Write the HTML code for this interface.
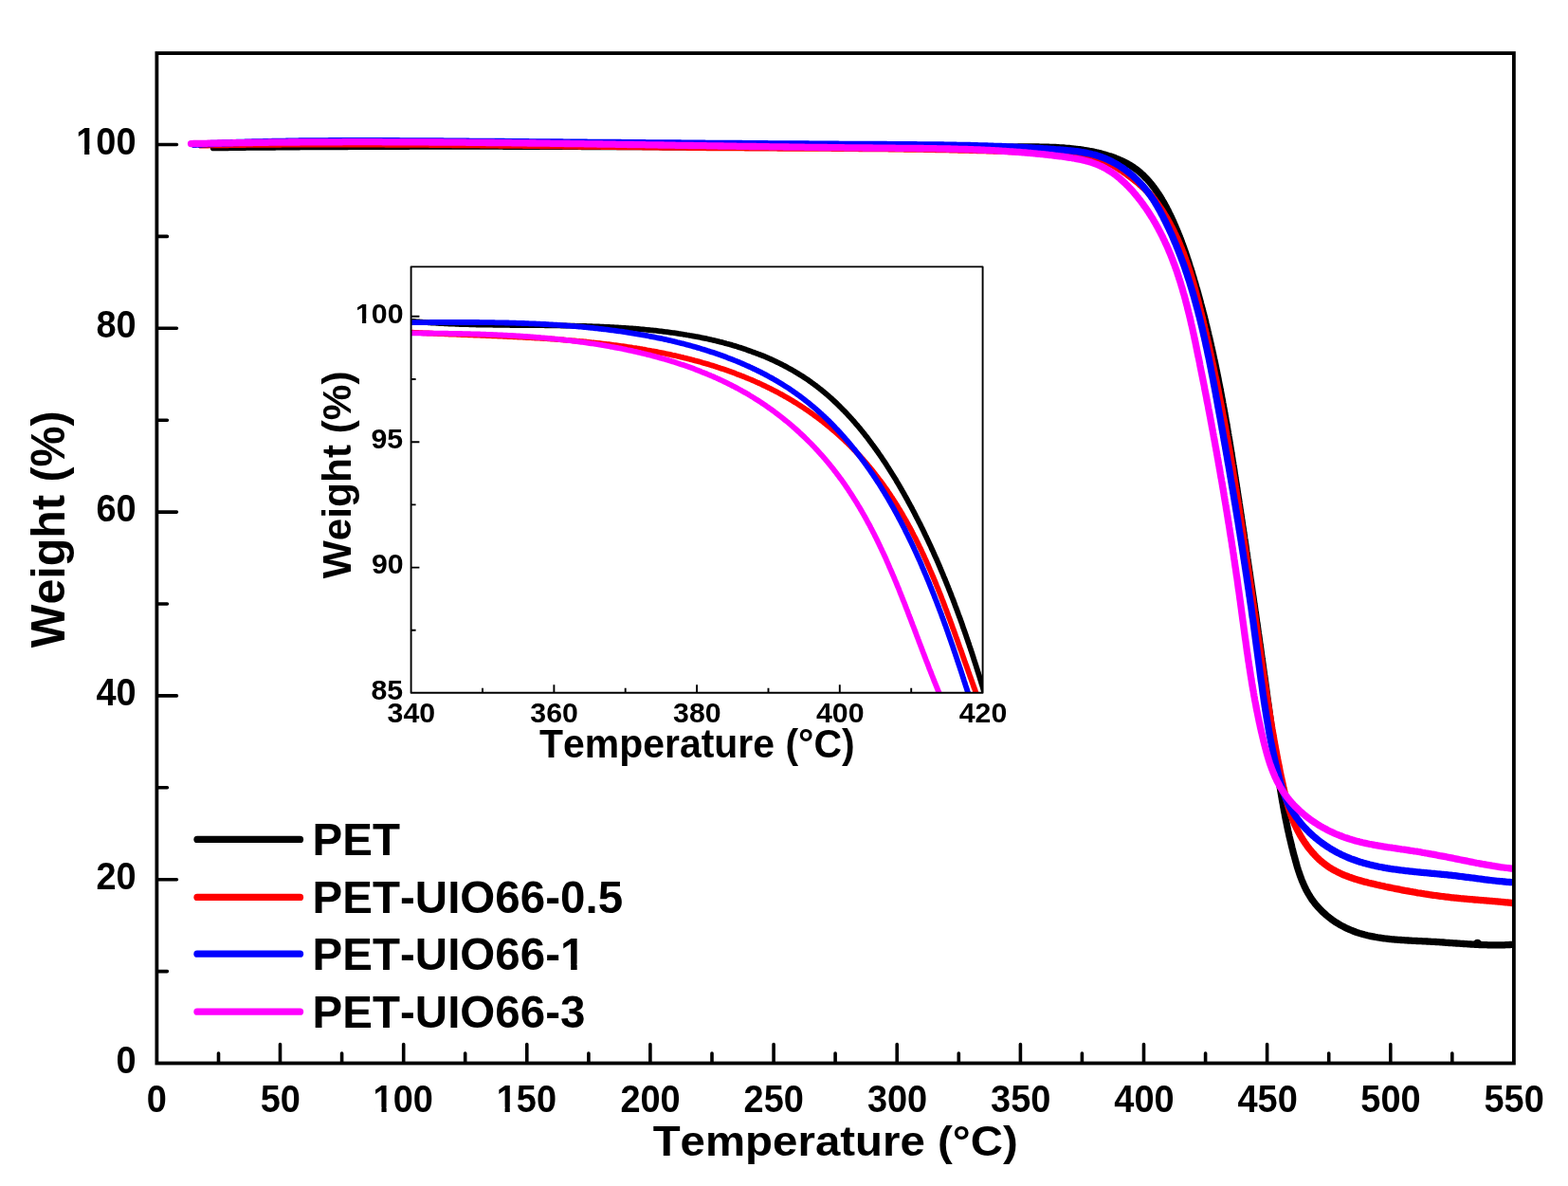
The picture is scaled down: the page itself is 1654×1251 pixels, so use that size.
<!DOCTYPE html>
<html><head><meta charset="utf-8"><title>TGA</title>
<style>html,body{margin:0;padding:0;background:#fff;overflow:hidden;}svg{display:block;}
text{font-family:"Liberation Sans",Arial,sans-serif;font-weight:bold;fill:#000;font-kerning:none;font-feature-settings:"kern" 0;}</style></head>
<body><svg width="1654" height="1251" viewBox="0 0 1654 1251">
<defs><clipPath id="c1_0"><path clip-rule="evenodd" d="M-19.95,-59.85 H86.52 V23.94 H-19.95 Z M1.51,-5.57 H9.31 V15.96 H1.51 Z M14.79,-5.57 H22.08 V15.96 H14.79 Z"/></clipPath><clipPath id="c1_1"><path clip-rule="evenodd" d="M-19.95,-59.85 H86.52 V23.94 H-19.95 Z M1.51,-5.57 H9.31 V15.96 H1.51 Z M14.79,-5.57 H22.08 V15.96 H14.79 Z"/></clipPath><clipPath id="c1_2"><path clip-rule="evenodd" d="M-19.95,-59.85 H86.52 V23.94 H-19.95 Z M1.51,-5.57 H9.31 V15.96 H1.51 Z M14.79,-5.57 H22.08 V15.96 H14.79 Z"/></clipPath><clipPath id="c1_3"><path clip-rule="evenodd" d="M-24.50,-73.50 H321.31 V29.40 H-24.50 Z M271.64,-6.50 H280.99 V19.60 H271.64 Z M287.71,-6.50 H296.44 V19.60 H287.71 Z"/></clipPath><clipPath id="c1_4"><path clip-rule="evenodd" d="M-15.00,-45.00 H65.06 V18.00 H-15.00 Z M0.89,-4.56 H7.00 V12.00 H0.89 Z M11.12,-4.56 H16.85 V12.00 H11.12 Z"/></clipPath></defs>
<rect x="0" y="0" width="1654" height="1251" fill="#fff"/>
<clipPath id="mc"><rect x="150" y="40" width="1447.0" height="1100"/></clipPath>
<g clip-path="url(#mc)">
<path d="M225.3,155.7 L226.8,155.6 228.3,155.6 229.8,155.6 231.3,155.6 232.8,155.6 234.3,155.5 235.8,155.5 237.3,155.5 238.8,155.5 240.4,155.5 241.9,155.4 243.4,155.4 244.9,155.4 246.4,155.4 247.9,155.4 249.4,155.4 250.9,155.3 252.4,155.3 253.9,155.3 255.4,155.3 256.9,155.3 258.4,155.3 259.9,155.2 261.4,155.2 262.9,155.2 264.4,155.2 265.9,155.2 267.4,155.2 268.9,155.2 270.4,155.1 271.9,155.1 273.4,155.1 274.9,155.1 276.4,155.1 277.9,155.1 279.4,155.1 280.9,155.0 282.4,155.0 283.9,155.0 285.4,155.0 286.9,155.0 288.4,155.0 289.9,155.0 291.4,154.9 292.9,154.9 294.4,154.9 296.0,154.9 297.5,154.9 299.0,154.9 300.5,154.9 302.0,154.9 303.5,154.8 305.0,154.8 306.5,154.8 308.0,154.8 309.5,154.8 311.0,154.8 312.5,154.8 314.0,154.8 315.5,154.8 317.0,154.7 318.5,154.7 320.0,154.7 321.5,154.7 323.0,154.7 324.5,154.7 326.0,154.7 327.5,154.7 329.0,154.7 330.5,154.7 332.0,154.6 333.5,154.6 335.0,154.6 336.5,154.6 338.0,154.6 339.5,154.6 341.0,154.6 342.5,154.6 344.0,154.6 345.5,154.6 347.0,154.6 348.5,154.5 350.0,154.5 351.5,154.5 353.0,154.5 354.5,154.5 356.0,154.5 357.5,154.5 359.0,154.5 360.5,154.5 362.0,154.5 363.5,154.5 365.0,154.5 366.5,154.5 368.0,154.4 369.5,154.4 371.0,154.4 372.5,154.4 374.0,154.4 375.5,154.4 377.0,154.4 378.5,154.4 380.0,154.4 381.5,154.4 383.0,154.4 384.5,154.4 386.0,154.4 387.5,154.4 389.0,154.4 390.5,154.4 392.0,154.4 393.5,154.3 395.0,154.3 396.5,154.3 398.0,154.3 399.5,154.3 401.0,154.3 402.5,154.3 404.0,154.3 405.5,154.3 407.0,154.3 408.5,154.3 410.0,154.3 411.5,154.3 413.0,154.3 414.5,154.3 416.0,154.3 417.5,154.3 419.0,154.3 420.5,154.3 422.0,154.3 423.5,154.3 425.0,154.3 426.5,154.3 428.0,154.3 429.5,154.3 431.0,154.3 432.5,154.2 434.0,154.2 435.5,154.2 437.0,154.2 438.5,154.2 440.0,154.2 441.5,154.2 443.0,154.2 444.5,154.2 446.0,154.2 447.5,154.2 449.0,154.2 450.5,154.2 452.0,154.2 453.5,154.2 455.0,154.2 456.5,154.2 458.0,154.2 459.5,154.2 461.0,154.2 462.5,154.2 464.0,154.2 465.4,154.2 466.9,154.2 468.4,154.2 469.9,154.2 471.4,154.2 472.9,154.2 474.4,154.2 475.9,154.2 477.4,154.2 478.9,154.2 480.4,154.2 481.9,154.2 483.4,154.2 484.9,154.2 486.4,154.2 487.9,154.2 489.4,154.2 490.9,154.2 492.4,154.2 493.9,154.2 495.4,154.2 496.9,154.2 498.4,154.2 499.9,154.2 501.4,154.2 502.9,154.2 504.4,154.2 505.9,154.2 507.4,154.2 508.9,154.2 510.4,154.2 511.9,154.2 513.4,154.2 514.9,154.2 516.4,154.2 517.9,154.2 519.4,154.2 520.9,154.2 522.4,154.2 523.9,154.2 525.4,154.2 526.9,154.2 528.4,154.2 529.9,154.2 531.4,154.3 532.9,154.3 534.4,154.3 535.9,154.3 537.4,154.3 538.9,154.3 540.4,154.3 541.8,154.3 543.3,154.3 544.8,154.3 546.3,154.3 547.8,154.3 549.3,154.3 550.8,154.3 552.3,154.3 553.8,154.3 555.3,154.3 556.8,154.3 558.3,154.3 559.8,154.3 561.3,154.3 562.8,154.3 564.3,154.3 565.8,154.3 567.3,154.3 568.8,154.3 570.3,154.3 571.8,154.3 573.3,154.3 574.8,154.3 576.3,154.3 577.8,154.3 579.3,154.4 580.8,154.4 582.3,154.4 583.8,154.4 585.3,154.4 586.8,154.4 588.3,154.4 589.8,154.4 591.3,154.4 592.8,154.4 594.3,154.4 595.8,154.4 597.3,154.4 598.8,154.4 600.3,154.4 601.8,154.4 603.3,154.4 604.7,154.4 606.2,154.4 607.7,154.4 609.2,154.4 610.7,154.4 612.2,154.4 613.7,154.5 615.2,154.5 616.7,154.5 618.2,154.5 619.7,154.5 621.2,154.5 622.7,154.5 624.2,154.5 625.7,154.5 627.2,154.5 628.7,154.5 630.2,154.5 631.7,154.5 633.2,154.5 634.7,154.5 636.2,154.5 637.7,154.5 639.2,154.5 640.7,154.5 642.2,154.5 643.7,154.5 645.2,154.6 646.7,154.6 648.2,154.6 649.7,154.6 651.2,154.6 652.7,154.6 654.2,154.6 655.7,154.6 657.2,154.6 658.7,154.6 660.2,154.6 661.7,154.6 663.2,154.6 664.6,154.6 666.1,154.6 667.6,154.6 669.1,154.6 670.6,154.6 672.1,154.7 673.6,154.7 675.1,154.7 676.6,154.7 678.1,154.7 679.6,154.7 681.1,154.7 682.6,154.7 684.1,154.7 685.6,154.7 687.1,154.7 688.6,154.7 690.1,154.7 691.6,154.7 693.1,154.7 694.6,154.7 696.1,154.7 697.6,154.7 699.1,154.8 700.6,154.8 702.1,154.8 703.6,154.8 705.1,154.8 706.6,154.8 708.1,154.8 709.6,154.8 711.1,154.8 712.6,154.8 714.1,154.8 715.6,154.8 717.1,154.8 718.6,154.8 720.1,154.8 721.6,154.8 723.1,154.8 724.6,154.9 726.1,154.9 727.6,154.9 729.1,154.9 730.6,154.9 732.0,154.9 733.5,154.9 735.0,154.9 736.5,154.9 738.0,154.9 739.5,154.9 741.0,154.9 742.5,154.9 744.0,154.9 745.5,154.9 747.0,154.9 748.5,154.9 750.0,154.9 751.5,155.0 753.0,155.0 754.5,155.0 756.0,155.0 757.5,155.0 759.0,155.0 760.5,155.0 762.0,155.0 763.5,155.0 765.0,155.0 766.5,155.0 768.0,155.0 769.5,155.0 771.0,155.0 772.5,155.0 774.0,155.0 775.5,155.0 777.0,155.0 778.5,155.0 780.0,155.1 781.5,155.1 783.0,155.1 784.5,155.1 786.0,155.1 787.5,155.1 789.0,155.1 790.5,155.1 792.0,155.1 793.5,155.1 795.0,155.1 796.5,155.1 798.0,155.1 799.5,155.1 801.0,155.1 802.5,155.1 804.0,155.1 805.5,155.1 807.0,155.1 808.5,155.1 810.0,155.2 811.5,155.2 813.0,155.2 814.5,155.2 816.0,155.2 817.5,155.2 819.0,155.2 820.5,155.2 822.0,155.2 823.5,155.2 825.0,155.2 826.5,155.2 828.0,155.2 829.5,155.2 831.0,155.2 832.5,155.2 834.0,155.2 835.5,155.2 837.0,155.2 838.5,155.2 840.0,155.2 841.5,155.2 843.0,155.2 844.5,155.2 846.0,155.3 847.5,155.3 849.0,155.3 850.5,155.3 852.0,155.3 853.5,155.3 855.0,155.3 856.5,155.3 858.0,155.3 859.5,155.3 861.0,155.3 862.5,155.3 864.0,155.3 865.5,155.3 867.0,155.3 868.5,155.3 870.0,155.3 871.5,155.3 873.0,155.3 874.5,155.3 876.0,155.3 877.5,155.3 879.0,155.3 880.5,155.3 882.0,155.3 883.5,155.3 885.0,155.3 886.5,155.3 888.0,155.3 889.5,155.3 891.0,155.3 892.5,155.3 894.0,155.3 895.5,155.4 897.0,155.4 898.5,155.4 900.0,155.4 901.5,155.4 903.0,155.4 904.5,155.4 906.0,155.4 907.5,155.4 909.0,155.4 910.5,155.4 912.0,155.4 913.5,155.4 915.0,155.4 916.5,155.4 918.0,155.4 919.5,155.4 921.0,155.4 922.5,155.4 924.0,155.4 925.5,155.4 927.0,155.4 928.5,155.4 930.0,155.4 931.5,155.4 933.0,155.4 934.5,155.4 936.0,155.4 937.5,155.4 939.0,155.4 940.5,155.4 942.0,155.4 943.5,155.4 945.0,155.4 946.5,155.4 948.0,155.4 949.5,155.4 951.0,155.4 952.5,155.4 954.0,155.4 955.5,155.4 957.0,155.4 958.5,155.4 960.0,155.4 961.5,155.4 963.0,155.4 964.5,155.4 966.1,155.4 967.6,155.4 969.1,155.4 970.6,155.4 972.1,155.4 973.6,155.4 975.1,155.4 976.6,155.4 978.1,155.4 979.6,155.4 981.1,155.4 982.6,155.4 984.1,155.4 985.6,155.4 987.1,155.3 988.6,155.3 990.1,155.3 991.6,155.3 993.1,155.3 994.6,155.3 996.1,155.3 997.6,155.3 999.1,155.3 1000.6,155.3 1002.1,155.3 1003.6,155.3 1005.1,155.3 1006.6,155.3 1008.1,155.3 1009.6,155.3 1011.2,155.3 1012.7,155.3 1014.2,155.3 1015.7,155.3 1017.2,155.3 1018.7,155.3 1020.2,155.3 1021.7,155.3 1023.2,155.3 1024.7,155.3 1026.2,155.3 1027.7,155.2 1029.2,155.2 1030.7,155.2 1032.2,155.2 1033.7,155.2 1035.2,155.2 1036.7,155.2 1038.2,155.2 1039.7,155.2 1041.2,155.2 1042.8,155.2 1044.3,155.2 1045.8,155.2 1047.3,155.2 1048.8,155.2 1050.3,155.2 1051.8,155.2 1053.3,155.2 1054.8,155.1 1056.3,155.1 1057.8,155.1 1059.3,155.1 1060.8,155.1 1062.3,155.1 1063.8,155.1 1065.3,155.1 1066.8,155.1 1068.4,155.1 1069.9,155.1 1071.4,155.1 1072.9,155.1 1074.4,155.0 1075.9,155.0 1077.4,155.0 1078.9,155.0 1080.4,155.0 1081.9,155.0 1083.4,155.0 1084.9,155.0 1086.4,155.0 1087.9,155.0 1089.4,155.0 1090.9,155.0 1092.4,155.0 1094.0,155.0 1095.5,155.0 1097.0,155.1 1098.5,155.1 1100.0,155.1 1101.5,155.1 1103.0,155.2 1104.5,155.2 1106.0,155.2 1107.5,155.3 1109.0,155.3 1110.5,155.4 1112.0,155.4 1113.5,155.5 1115.0,155.6 1116.5,155.7 1117.9,155.8 1119.4,155.8 1120.9,155.9 1122.4,156.0 1123.9,156.2 1125.4,156.3 1126.9,156.4 1128.4,156.5 1129.9,156.7 1131.4,156.8 1132.8,157.0 1134.3,157.2 1135.8,157.3 1137.3,157.5 1138.8,157.7 1140.2,157.9 1141.7,158.1 1143.2,158.4 1144.7,158.6 1146.1,158.8 1147.6,159.1 1149.1,159.4 1150.5,159.6 1152.0,159.9 1153.5,160.2 1154.9,160.5 1156.4,160.9 1157.9,161.2 1159.3,161.5 1160.8,161.9 1162.2,162.3 1163.7,162.7 1165.1,163.1 1166.6,163.5 1168.0,163.9 1169.5,164.4 1170.9,164.8 1172.3,165.3 1173.7,165.8 1175.1,166.3 1176.5,166.8 1177.9,167.4 1179.3,167.9 1180.7,168.5 1182.0,169.1 1183.4,169.7 1184.7,170.3 1186.0,171.0 1187.4,171.6 1188.7,172.3 1189.9,173.0 1191.2,173.8 1192.5,174.5 1193.7,175.3 1194.9,176.1 1196.1,176.9 1197.3,177.8 1198.5,178.6 1199.7,179.5 1200.8,180.4 1201.9,181.3 1203.0,182.3 1204.1,183.3 1205.2,184.2 1206.2,185.2 1207.3,186.3 1208.3,187.3 1209.3,188.3 1210.3,189.4 1211.3,190.5 1212.3,191.6 1213.2,192.7 1214.2,193.9 1215.1,195.0 1216.0,196.2 1216.9,197.4 1217.8,198.5 1218.7,199.8 1219.5,201.0 1220.4,202.2 1221.2,203.4 1222.1,204.7 1222.9,205.9 1223.7,207.2 1224.5,208.5 1225.3,209.8 1226.0,211.1 1226.8,212.4 1227.6,213.7 1228.3,215.0 1229.0,216.4 1229.8,217.7 1230.5,219.0 1231.2,220.4 1231.9,221.7 1232.6,223.1 1233.2,224.5 1233.9,225.8 1234.6,227.2 1235.2,228.6 1235.9,230.0 1236.5,231.3 1237.1,232.7 1237.8,234.1 1238.4,235.5 1239.0,236.9 1239.6,238.3 1240.2,239.7 1240.8,241.1 1241.4,242.5 1242.0,243.9 1242.5,245.3 1243.1,246.7 1243.7,248.1 1244.2,249.5 1244.8,250.9 1245.3,252.3 1245.9,253.7 1246.4,255.1 1246.9,256.6 1247.5,258.0 1248.0,259.4 1248.5,260.8 1249.0,262.2 1249.5,263.7 1250.0,265.1 1250.5,266.5 1251.0,267.9 1251.5,269.4 1251.9,270.8 1252.4,272.2 1252.9,273.7 1253.4,275.1 1253.8,276.5 1254.3,278.0 1254.8,279.4 1255.2,280.8 1255.7,282.3 1256.1,283.7 1256.6,285.1 1257.0,286.6 1257.5,288.0 1257.9,289.4 1258.3,290.9 1258.8,292.3 1259.2,293.8 1259.6,295.2 1260.0,296.7 1260.5,298.1 1260.9,299.5 1261.3,301.0 1261.7,302.4 1262.1,303.9 1262.6,305.3 1263.0,306.7 1263.4,308.2 1263.8,309.6 1264.2,311.1 1264.6,312.5 1265.0,314.0 1265.4,315.4 1265.8,316.9 1266.2,318.3 1266.5,319.8 1266.9,321.2 1267.3,322.6 1267.7,324.1 1268.1,325.5 1268.5,327.0 1268.8,328.4 1269.2,329.9 1269.6,331.3 1270.0,332.8 1270.3,334.2 1270.7,335.7 1271.1,337.1 1271.4,338.6 1271.8,340.0 1272.1,341.5 1272.5,342.9 1272.9,344.4 1273.2,345.9 1273.6,347.3 1273.9,348.8 1274.3,350.2 1274.6,351.7 1274.9,353.1 1275.3,354.6 1275.6,356.0 1276.0,357.5 1276.3,358.9 1276.6,360.4 1277.0,361.9 1277.3,363.3 1277.6,364.8 1278.0,366.2 1278.3,367.7 1278.6,369.1 1278.9,370.6 1279.3,372.1 1279.6,373.5 1279.9,375.0 1280.2,376.4 1280.5,377.9 1280.8,379.4 1281.1,380.8 1281.5,382.3 1281.8,383.7 1282.1,385.2 1282.4,386.7 1282.7,388.1 1283.0,389.6 1283.3,391.0 1283.6,392.5 1283.9,394.0 1284.2,395.4 1284.5,396.9 1284.8,398.4 1285.1,399.8 1285.3,401.3 1285.6,402.8 1285.9,404.2 1286.2,405.7 1286.5,407.1 1286.8,408.6 1287.1,410.1 1287.3,411.5 1287.6,413.0 1287.9,414.5 1288.2,415.9 1288.5,417.4 1288.7,418.9 1289.0,420.3 1289.3,421.8 1289.6,423.3 1289.8,424.8 1290.1,426.2 1290.4,427.7 1290.6,429.2 1290.9,430.6 1291.2,432.1 1291.4,433.6 1291.7,435.0 1291.9,436.5 1292.2,438.0 1292.5,439.5 1292.7,440.9 1293.0,442.4 1293.2,443.9 1293.5,445.3 1293.8,446.8 1294.0,448.3 1294.3,449.8 1294.5,451.2 1294.8,452.7 1295.0,454.2 1295.3,455.6 1295.5,457.1 1295.8,458.6 1296.0,460.1 1296.3,461.5 1296.5,463.0 1296.8,464.5 1297.0,466.0 1297.2,467.4 1297.5,468.9 1297.7,470.4 1298.0,471.9 1298.2,473.4 1298.4,474.8 1298.7,476.3 1298.9,477.8 1299.2,479.3 1299.4,480.7 1299.6,482.2 1299.9,483.7 1300.1,485.2 1300.3,486.7 1300.6,488.1 1300.8,489.6 1301.1,491.1 1301.3,492.6 1301.5,494.0 1301.8,495.5 1302.0,497.0 1302.2,498.5 1302.4,500.0 1302.7,501.4 1302.9,502.9 1303.1,504.4 1303.4,505.9 1303.6,507.4 1303.8,508.9 1304.1,510.3 1304.3,511.8 1304.5,513.3 1304.7,514.8 1305.0,516.3 1305.2,517.7 1305.4,519.2 1305.6,520.7 1305.9,522.2 1306.1,523.7 1306.3,525.2 1306.6,526.6 1306.8,528.1 1307.0,529.6 1307.2,531.1 1307.5,532.6 1307.7,534.1 1307.9,535.5 1308.1,537.0 1308.4,538.5 1308.6,540.0 1308.8,541.5 1309.0,543.0 1309.3,544.5 1309.5,545.9 1309.7,547.4 1309.9,548.9 1310.2,550.4 1310.4,551.9 1310.6,553.4 1310.8,554.9 1311.1,556.4 1311.3,557.8 1311.5,559.3 1311.7,560.8 1311.9,562.3 1312.2,563.8 1312.4,565.3 1312.6,566.8 1312.8,568.3 1313.1,569.7 1313.3,571.2 1313.5,572.7 1313.7,574.2 1314.0,575.7 1314.2,577.2 1314.4,578.7 1314.6,580.2 1314.8,581.6 1315.1,583.1 1315.3,584.6 1315.5,586.1 1315.7,587.6 1315.9,589.1 1316.2,590.6 1316.4,592.1 1316.6,593.6 1316.8,595.0 1317.0,596.5 1317.3,598.0 1317.5,599.5 1317.7,601.0 1317.9,602.5 1318.1,604.0 1318.4,605.5 1318.6,607.0 1318.8,608.5 1319.0,609.9 1319.2,611.4 1319.5,612.9 1319.7,614.4 1319.9,615.9 1320.1,617.4 1320.3,618.9 1320.6,620.4 1320.8,621.9 1321.0,623.4 1321.2,624.9 1321.4,626.3 1321.6,627.8 1321.9,629.3 1322.1,630.8 1322.3,632.3 1322.5,633.8 1322.7,635.3 1322.9,636.8 1323.2,638.3 1323.4,639.8 1323.6,641.2 1323.8,642.7 1324.0,644.2 1324.2,645.7 1324.5,647.2 1324.7,648.7 1324.9,650.2 1325.1,651.7 1325.3,653.2 1325.5,654.7 1325.7,656.2 1326.0,657.6 1326.2,659.1 1326.4,660.6 1326.6,662.1 1326.8,663.6 1327.0,665.1 1327.2,666.6 1327.4,668.1 1327.7,669.6 1327.9,671.1 1328.1,672.5 1328.3,674.0 1328.5,675.5 1328.7,677.0 1328.9,678.5 1329.1,680.0 1329.4,681.5 1329.6,683.0 1329.8,684.5 1330.0,686.0 1330.2,687.4 1330.4,688.9 1330.6,690.4 1330.8,691.9 1331.0,693.4 1331.2,694.9 1331.5,696.4 1331.7,697.9 1331.9,699.4 1332.1,700.8 1332.3,702.3 1332.5,703.8 1332.7,705.3 1332.9,706.8 1333.1,708.3 1333.3,709.8 1333.5,711.3 1333.7,712.7 1334.0,714.2 1334.2,715.7 1334.4,717.2 1334.6,718.7 1334.8,720.2 1335.0,721.7 1335.2,723.2 1335.4,724.6 1335.6,726.1 1335.8,727.6 1336.0,729.1 1336.2,730.6 1336.4,732.1 1336.6,733.6 1336.8,735.1 1337.0,736.5 1337.2,738.0 1337.4,739.5 1337.6,741.0 1337.9,742.5 1338.1,744.0 1338.3,745.4 1338.5,746.9 1338.7,748.4 1338.9,749.9 1339.1,751.4 1339.3,752.9 1339.5,754.4 1339.7,755.8 1339.9,757.3 1340.1,758.8 1340.3,760.3 1340.5,761.8 1340.7,763.3 1340.9,764.7 1341.1,766.2 1341.3,767.7 1341.5,769.2 1341.7,770.7 1341.9,772.1 1342.1,773.6 1342.3,775.1 1342.5,776.6 1342.7,778.1 1342.9,779.5 1343.1,781.0 1343.3,782.5 1343.5,784.0 1343.7,785.5 1343.9,786.9 1344.1,788.4 1344.3,789.9 1344.5,791.4 1344.7,792.9 1344.9,794.3 1345.1,795.8 1345.3,797.3 1345.5,798.8 1345.7,800.2 1345.9,801.7 1346.1,803.2 1346.4,804.7 1346.6,806.2 1346.8,807.6 1347.0,809.1 1347.2,810.6 1347.4,812.1 1347.6,813.5 1347.9,815.0 1348.1,816.5 1348.3,817.9 1348.5,819.4 1348.7,820.9 1349.0,822.4 1349.2,823.8 1349.4,825.3 1349.7,826.8 1349.9,828.3 1350.1,829.7 1350.4,831.2 1350.6,832.7 1350.8,834.1 1351.1,835.6 1351.3,837.1 1351.6,838.6 1351.8,840.0 1352.1,841.5 1352.3,843.0 1352.6,844.4 1352.8,845.9 1353.1,847.4 1353.4,848.8 1353.6,850.3 1353.9,851.8 1354.2,853.2 1354.4,854.7 1354.7,856.2 1355.0,857.6 1355.3,859.1 1355.5,860.6 1355.8,862.0 1356.1,863.5 1356.4,864.9 1356.7,866.4 1357.0,867.9 1357.3,869.3 1357.6,870.8 1357.9,872.3 1358.2,873.7 1358.5,875.2 1358.8,876.6 1359.2,878.1 1359.5,879.6 1359.8,881.0 1360.1,882.5 1360.5,883.9 1360.8,885.4 1361.2,886.9 1361.5,888.3 1361.9,889.8 1362.2,891.2 1362.6,892.7 1362.9,894.1 1363.3,895.6 1363.7,897.0 1364.0,898.5 1364.4,900.0 1364.8,901.4 1365.2,902.9 1365.6,904.3 1366.0,905.8 1366.4,907.2 1366.8,908.7 1367.2,910.1 1367.6,911.6 1368.0,913.0 1368.4,914.5 1368.9,915.9 1369.3,917.3 1369.8,918.8 1370.3,920.2 1370.7,921.6 1371.2,923.0 1371.7,924.4 1372.3,925.9 1372.8,927.3 1373.3,928.6 1373.9,930.0 1374.5,931.4 1375.1,932.8 1375.7,934.1 1376.3,935.5 1377.0,936.8 1377.6,938.2 1378.3,939.5 1379.0,940.8 1379.7,942.1 1380.5,943.4 1381.3,944.7 1382.1,946.0 1382.9,947.2 1383.7,948.5 1384.6,949.7 1385.5,950.9 1386.4,952.1 1387.3,953.3 1388.3,954.5 1389.3,955.6 1390.3,956.8 1391.3,957.9 1392.4,959.0 1393.4,960.1 1394.5,961.2 1395.6,962.2 1396.8,963.3 1397.9,964.3 1399.0,965.3 1400.2,966.3 1401.4,967.2 1402.6,968.2 1403.8,969.1 1405.0,970.0 1406.3,970.9 1407.5,971.8 1408.7,972.6 1410.0,973.4 1411.3,974.2 1412.6,975.0 1413.8,975.7 1415.1,976.4 1416.4,977.1 1417.8,977.8 1419.1,978.5 1420.4,979.1 1421.7,979.7 1423.1,980.3 1424.4,980.9 1425.8,981.4 1427.1,982.0 1428.5,982.5 1429.8,983.0 1431.2,983.5 1432.6,983.9 1434.0,984.4 1435.4,984.8 1436.8,985.2 1438.2,985.6 1439.6,986.0 1441.0,986.3 1442.4,986.7 1443.8,987.0 1445.3,987.3 1446.7,987.6 1448.1,987.9 1449.6,988.2 1451.0,988.5 1452.5,988.7 1453.9,989.0 1455.4,989.2 1456.9,989.4 1458.3,989.6 1459.8,989.8 1461.3,990.0 1462.8,990.2 1464.3,990.4 1465.8,990.5 1467.2,990.7 1468.7,990.8 1470.2,990.9 1471.7,991.1 1473.2,991.2 1474.8,991.3 1476.3,991.4 1477.8,991.5 1479.3,991.6 1480.8,991.7 1482.3,991.8 1483.9,991.9 1485.4,992.0 1486.9,992.1 1488.4,992.2 1490.0,992.3 1491.5,992.3 1493.0,992.4 1494.6,992.5 1496.1,992.6 1497.6,992.6 1499.2,992.7 1500.7,992.8 1502.3,992.9 1503.8,992.9 1505.4,993.0 1506.9,993.1 1508.5,993.2 1510.0,993.3 1511.5,993.3 1513.1,993.4 1514.6,993.5 1516.2,993.6 1517.7,993.7 1519.3,993.8 1520.8,993.9 1522.4,994.0 1523.9,994.1 1525.5,994.3 1527.0,994.4 1528.5,994.5 1530.1,994.6 1531.6,994.7 1533.2,994.8 1534.7,994.9 1536.2,995.0 1537.8,995.1 1539.3,995.2 1540.9,995.3 1542.4,995.4 1543.9,995.5 1545.4,995.6 1547.0,995.7 1548.5,995.8 1550.0,995.9 1551.5,996.0 1553.0,996.1 1554.6,996.2 1556.1,996.3 1557.6,996.3 1559.1,996.4 1560.6,996.5 1562.1,996.5 1563.6,996.6 1565.1,996.7 1566.6,996.7 1568.1,996.7 1569.5,996.8 1571.0,996.8 1572.5,996.8 1574.0,996.9 1575.4,996.9 1576.9,996.9 1578.3,996.9 1579.8,996.9 1581.3,996.9 1582.7,996.9 1584.1,996.8 1585.6,996.8 1587.0,996.8 1588.4,996.7 1589.8,996.6 1591.3,996.6 1592.7,996.5 1594.1,996.4 1595.5,996.3 1596.9,996.2 1598.3,996.1 1599.6,996.0" fill="none" stroke="#000" stroke-width="7.3" stroke-linecap="round" stroke-linejoin="round"/>
<circle cx="1558.5" cy="995.3" r="4.6" fill="#000"/>
<path d="M212.0,152.9 L213.5,152.8 215.0,152.8 216.5,152.8 218.0,152.8 219.5,152.8 221.0,152.7 222.5,152.7 224.0,152.7 225.5,152.7 227.0,152.6 228.5,152.6 230.0,152.6 231.5,152.6 233.0,152.6 234.4,152.5 235.9,152.5 237.4,152.5 238.9,152.5 240.4,152.5 241.9,152.4 243.4,152.4 244.9,152.4 246.4,152.4 247.9,152.4 249.4,152.3 250.9,152.3 252.4,152.3 253.9,152.3 255.4,152.3 256.9,152.3 258.4,152.3 259.9,152.2 261.4,152.2 262.9,152.2 264.4,152.2 265.9,152.2 267.4,152.2 268.9,152.2 270.4,152.1 271.9,152.1 273.4,152.1 274.9,152.1 276.4,152.1 277.9,152.1 279.4,152.1 280.9,152.1 282.4,152.0 283.9,152.0 285.4,152.0 286.9,152.0 288.4,152.0 289.9,152.0 291.4,152.0 292.9,152.0 294.4,152.0 295.9,152.0 297.4,151.9 298.9,151.9 300.4,151.9 301.9,151.9 303.4,151.9 304.9,151.9 306.4,151.9 307.9,151.9 309.4,151.9 310.9,151.9 312.4,151.9 313.9,151.9 315.4,151.9 316.9,151.9 318.4,151.9 319.9,151.9 321.4,151.8 322.9,151.8 324.4,151.8 325.9,151.8 327.4,151.8 328.9,151.8 330.4,151.8 331.9,151.8 333.4,151.8 334.9,151.8 336.4,151.8 337.9,151.8 339.4,151.8 340.9,151.8 342.4,151.8 343.9,151.8 345.4,151.8 346.9,151.8 348.4,151.8 349.9,151.8 351.4,151.8 352.9,151.8 354.4,151.8 355.9,151.8 357.4,151.8 358.9,151.8 360.4,151.8 361.9,151.8 363.4,151.8 364.9,151.8 366.4,151.8 367.9,151.8 369.4,151.8 370.9,151.8 372.4,151.8 373.9,151.8 375.4,151.8 376.9,151.8 378.4,151.8 379.9,151.9 381.4,151.9 382.9,151.9 384.4,151.9 385.9,151.9 387.4,151.9 388.9,151.9 390.4,151.9 391.9,151.9 393.4,151.9 394.9,151.9 396.4,151.9 397.9,151.9 399.4,151.9 400.9,151.9 402.4,151.9 403.9,151.9 405.4,151.9 406.9,152.0 408.4,152.0 409.9,152.0 411.4,152.0 412.9,152.0 414.4,152.0 415.9,152.0 417.4,152.0 418.9,152.0 420.4,152.0 421.9,152.0 423.4,152.0 424.9,152.1 426.4,152.1 427.9,152.1 429.4,152.1 430.9,152.1 432.4,152.1 433.9,152.1 435.4,152.1 436.9,152.1 438.4,152.1 439.9,152.2 441.4,152.2 442.9,152.2 444.4,152.2 445.9,152.2 447.4,152.2 448.9,152.2 450.4,152.2 451.9,152.2 453.4,152.3 454.9,152.3 456.4,152.3 457.9,152.3 459.4,152.3 460.9,152.3 462.4,152.3 463.9,152.3 465.4,152.4 466.8,152.4 468.3,152.4 469.8,152.4 471.3,152.4 472.8,152.4 474.3,152.4 475.8,152.4 477.3,152.5 478.8,152.5 480.3,152.5 481.8,152.5 483.3,152.5 484.8,152.5 486.3,152.5 487.8,152.6 489.3,152.6 490.8,152.6 492.3,152.6 493.8,152.6 495.3,152.6 496.8,152.6 498.3,152.7 499.8,152.7 501.3,152.7 502.8,152.7 504.3,152.7 505.8,152.7 507.3,152.8 508.8,152.8 510.3,152.8 511.8,152.8 513.3,152.8 514.8,152.8 516.3,152.8 517.8,152.9 519.3,152.9 520.8,152.9 522.3,152.9 523.8,152.9 525.3,152.9 526.8,153.0 528.3,153.0 529.8,153.0 531.3,153.0 532.8,153.0 534.3,153.0 535.8,153.1 537.3,153.1 538.8,153.1 540.3,153.1 541.8,153.1 543.3,153.1 544.8,153.2 546.3,153.2 547.8,153.2 549.3,153.2 550.8,153.2 552.3,153.3 553.8,153.3 555.3,153.3 556.8,153.3 558.3,153.3 559.8,153.3 561.3,153.4 562.8,153.4 564.3,153.4 565.8,153.4 567.3,153.4 568.8,153.4 570.3,153.5 571.8,153.5 573.3,153.5 574.8,153.5 576.3,153.5 577.8,153.6 579.3,153.6 580.8,153.6 582.3,153.6 583.8,153.6 585.3,153.6 586.8,153.7 588.3,153.7 589.8,153.7 591.3,153.7 592.8,153.7 594.3,153.8 595.8,153.8 597.3,153.8 598.8,153.8 600.3,153.8 601.8,153.9 603.3,153.9 604.8,153.9 606.3,153.9 607.8,153.9 609.3,153.9 610.8,154.0 612.3,154.0 613.8,154.0 615.3,154.0 616.8,154.0 618.3,154.1 619.8,154.1 621.3,154.1 622.8,154.1 624.3,154.1 625.8,154.1 627.3,154.2 628.8,154.2 630.3,154.2 631.8,154.2 633.3,154.2 634.8,154.3 636.3,154.3 637.8,154.3 639.3,154.3 640.8,154.3 642.3,154.3 643.8,154.4 645.3,154.4 646.8,154.4 648.3,154.4 649.8,154.4 651.3,154.5 652.8,154.5 654.3,154.5 655.8,154.5 657.3,154.5 658.8,154.5 660.3,154.6 661.8,154.6 663.3,154.6 664.8,154.6 666.3,154.6 667.8,154.6 669.3,154.7 670.8,154.7 672.3,154.7 673.8,154.7 675.3,154.7 676.8,154.7 678.3,154.8 679.8,154.8 681.3,154.8 682.8,154.8 684.3,154.8 685.8,154.9 687.3,154.9 688.8,154.9 690.3,154.9 691.8,154.9 693.3,154.9 694.8,154.9 696.3,155.0 697.8,155.0 699.3,155.0 700.8,155.0 702.3,155.0 703.8,155.0 705.3,155.1 706.8,155.1 708.3,155.1 709.8,155.1 711.3,155.1 712.8,155.1 714.3,155.2 715.8,155.2 717.3,155.2 718.8,155.2 720.3,155.2 721.8,155.2 723.3,155.2 724.8,155.3 726.3,155.3 727.7,155.3 729.2,155.3 730.7,155.3 732.2,155.3 733.7,155.3 735.2,155.4 736.7,155.4 738.2,155.4 739.7,155.4 741.2,155.4 742.7,155.4 744.2,155.4 745.7,155.5 747.2,155.5 748.7,155.5 750.2,155.5 751.7,155.5 753.2,155.5 754.7,155.5 756.2,155.5 757.7,155.6 759.2,155.6 760.7,155.6 762.2,155.6 763.7,155.6 765.2,155.6 766.7,155.6 768.2,155.6 769.7,155.6 771.2,155.7 772.7,155.7 774.2,155.7 775.7,155.7 777.2,155.7 778.7,155.7 780.2,155.7 781.7,155.7 783.2,155.7 784.7,155.7 786.2,155.8 787.7,155.8 789.2,155.8 790.7,155.8 792.2,155.8 793.7,155.8 795.2,155.8 796.7,155.8 798.2,155.8 799.7,155.8 801.2,155.8 802.7,155.9 804.2,155.9 805.7,155.9 807.2,155.9 808.7,155.9 810.2,155.9 811.7,155.9 813.2,155.9 814.7,155.9 816.2,155.9 817.7,155.9 819.2,155.9 820.7,156.0 822.2,156.0 823.7,156.0 825.2,156.0 826.7,156.0 828.2,156.0 829.7,156.0 831.2,156.0 832.7,156.0 834.2,156.0 835.7,156.0 837.2,156.0 838.7,156.0 840.2,156.1 841.7,156.1 843.2,156.1 844.7,156.1 846.2,156.1 847.7,156.1 849.2,156.1 850.8,156.1 852.3,156.1 853.8,156.1 855.3,156.1 856.8,156.1 858.3,156.1 859.8,156.2 861.3,156.2 862.8,156.2 864.3,156.2 865.8,156.2 867.3,156.2 868.8,156.2 870.3,156.2 871.8,156.2 873.3,156.2 874.8,156.2 876.3,156.2 877.8,156.3 879.3,156.3 880.8,156.3 882.3,156.3 883.8,156.3 885.3,156.3 886.8,156.3 888.3,156.3 889.8,156.3 891.3,156.3 892.8,156.4 894.3,156.4 895.8,156.4 897.3,156.4 898.8,156.4 900.3,156.4 901.8,156.4 903.3,156.4 904.8,156.4 906.3,156.5 907.8,156.5 909.3,156.5 910.8,156.5 912.3,156.5 913.8,156.5 915.3,156.5 916.8,156.5 918.3,156.6 919.8,156.6 921.3,156.6 922.8,156.6 924.3,156.6 925.8,156.6 927.3,156.6 928.8,156.7 930.3,156.7 931.8,156.7 933.3,156.7 934.8,156.7 936.3,156.7 937.8,156.8 939.3,156.8 940.8,156.8 942.3,156.8 943.8,156.8 945.3,156.8 946.7,156.9 948.2,156.9 949.7,156.9 951.2,156.9 952.7,156.9 954.2,157.0 955.7,157.0 957.2,157.0 958.7,157.0 960.2,157.0 961.7,157.1 963.2,157.1 964.7,157.1 966.2,157.1 967.7,157.1 969.2,157.2 970.7,157.2 972.2,157.2 973.7,157.2 975.2,157.3 976.7,157.3 978.2,157.3 979.7,157.3 981.2,157.4 982.7,157.4 984.2,157.4 985.7,157.4 987.2,157.5 988.7,157.5 990.2,157.5 991.7,157.6 993.2,157.6 994.7,157.6 996.2,157.6 997.7,157.7 999.2,157.7 1000.7,157.7 1002.2,157.8 1003.7,157.8 1005.2,157.8 1006.7,157.9 1008.2,157.9 1009.7,157.9 1011.2,158.0 1012.7,158.0 1014.2,158.0 1015.7,158.1 1017.2,158.1 1018.7,158.2 1020.2,158.2 1021.7,158.2 1023.2,158.3 1024.7,158.3 1026.2,158.3 1027.7,158.4 1029.2,158.4 1030.7,158.5 1032.2,158.5 1033.7,158.5 1035.2,158.6 1036.7,158.6 1038.2,158.7 1039.7,158.7 1041.2,158.8 1042.7,158.8 1044.2,158.9 1045.7,158.9 1047.2,158.9 1048.7,159.0 1050.2,159.0 1051.7,159.1 1053.2,159.1 1054.7,159.2 1056.2,159.2 1057.7,159.3 1059.2,159.3 1060.7,159.4 1062.2,159.4 1063.7,159.5 1065.2,159.5 1066.7,159.6 1068.2,159.7 1069.7,159.7 1071.2,159.8 1072.7,159.8 1074.2,159.9 1075.7,159.9 1077.2,160.0 1078.7,160.1 1080.2,160.1 1081.7,160.2 1083.2,160.2 1084.7,160.3 1086.2,160.4 1087.7,160.4 1089.2,160.5 1090.6,160.5 1092.1,160.6 1093.6,160.7 1095.1,160.7 1096.6,160.8 1098.1,160.9 1099.6,160.9 1101.1,161.0 1102.6,161.1 1104.1,161.1 1105.6,161.2 1107.1,161.3 1108.6,161.3 1110.1,161.4 1111.6,161.5 1113.1,161.5 1114.6,161.6 1116.1,161.7 1117.6,161.7 1119.1,161.8 1120.6,161.9 1122.1,161.9 1123.6,162.0 1125.1,162.1 1126.6,162.2 1128.1,162.3 1129.6,162.3 1131.1,162.4 1132.5,162.6 1134.0,162.7 1135.5,162.8 1137.0,163.0 1138.5,163.1 1139.9,163.3 1141.4,163.5 1142.9,163.7 1144.3,163.9 1145.8,164.2 1147.3,164.4 1148.7,164.7 1150.2,165.0 1151.6,165.3 1153.0,165.7 1154.5,166.1 1155.9,166.5 1157.3,166.9 1158.7,167.3 1160.1,167.8 1161.5,168.3 1162.9,168.9 1164.3,169.5 1165.7,170.1 1167.0,170.7 1168.4,171.3 1169.8,172.0 1171.1,172.7 1172.4,173.4 1173.8,174.1 1175.1,174.9 1176.4,175.7 1177.7,176.4 1179.0,177.2 1180.3,178.1 1181.6,178.9 1182.9,179.7 1184.2,180.6 1185.4,181.5 1186.7,182.3 1187.9,183.2 1189.1,184.1 1190.3,185.0 1191.5,185.9 1192.7,186.8 1193.9,187.7 1195.1,188.7 1196.3,189.6 1197.4,190.5 1198.6,191.4 1199.7,192.3 1200.9,193.3 1202.0,194.2 1203.1,195.2 1204.2,196.1 1205.2,197.1 1206.3,198.0 1207.4,199.0 1208.4,200.1 1209.4,201.1 1210.5,202.1 1211.5,203.2 1212.5,204.3 1213.5,205.4 1214.4,206.5 1215.4,207.7 1216.3,208.8 1217.3,210.0 1218.2,211.2 1219.1,212.4 1220.0,213.6 1220.9,214.8 1221.8,216.1 1222.7,217.3 1223.5,218.6 1224.4,219.8 1225.2,221.1 1226.1,222.4 1226.9,223.7 1227.7,225.0 1228.5,226.3 1229.3,227.6 1230.1,228.9 1230.8,230.2 1231.6,231.5 1232.3,232.9 1233.1,234.2 1233.8,235.5 1234.5,236.8 1235.2,238.2 1235.9,239.5 1236.6,240.8 1237.3,242.2 1237.9,243.5 1238.6,244.8 1239.2,246.2 1239.9,247.5 1240.5,248.9 1241.2,250.2 1241.8,251.6 1242.4,252.9 1243.0,254.3 1243.6,255.7 1244.2,257.0 1244.7,258.4 1245.3,259.8 1245.9,261.1 1246.4,262.5 1247.0,263.9 1247.5,265.3 1248.1,266.6 1248.6,268.0 1249.1,269.4 1249.6,270.8 1250.1,272.2 1250.6,273.6 1251.1,275.0 1251.6,276.3 1252.1,277.7 1252.6,279.1 1253.1,280.5 1253.5,281.9 1254.0,283.3 1254.5,284.8 1254.9,286.2 1255.4,287.6 1255.8,289.0 1256.2,290.4 1256.7,291.8 1257.1,293.2 1257.5,294.6 1257.9,296.1 1258.4,297.5 1258.8,298.9 1259.2,300.3 1259.6,301.8 1260.0,303.2 1260.4,304.6 1260.8,306.0 1261.2,307.5 1261.6,308.9 1261.9,310.3 1262.3,311.8 1262.7,313.2 1263.1,314.7 1263.5,316.1 1263.8,317.5 1264.2,319.0 1264.6,320.4 1264.9,321.9 1265.3,323.3 1265.6,324.8 1266.0,326.2 1266.4,327.7 1266.7,329.1 1267.1,330.6 1267.4,332.0 1267.8,333.5 1268.1,334.9 1268.5,336.4 1268.8,337.9 1269.2,339.3 1269.5,340.8 1269.9,342.2 1270.2,343.7 1270.6,345.2 1270.9,346.6 1271.3,348.1 1271.6,349.6 1271.9,351.0 1272.3,352.5 1272.6,354.0 1273.0,355.4 1273.3,356.9 1273.6,358.4 1274.0,359.9 1274.3,361.3 1274.6,362.8 1275.0,364.3 1275.3,365.8 1275.6,367.2 1275.9,368.7 1276.3,370.2 1276.6,371.7 1276.9,373.1 1277.2,374.6 1277.6,376.1 1277.9,377.6 1278.2,379.1 1278.5,380.5 1278.8,382.0 1279.1,383.5 1279.5,385.0 1279.8,386.5 1280.1,388.0 1280.4,389.4 1280.7,390.9 1281.0,392.4 1281.3,393.9 1281.6,395.4 1281.9,396.9 1282.3,398.3 1282.6,399.8 1282.9,401.3 1283.2,402.8 1283.5,404.3 1283.8,405.8 1284.1,407.2 1284.4,408.7 1284.7,410.2 1285.0,411.7 1285.3,413.2 1285.5,414.7 1285.8,416.2 1286.1,417.6 1286.4,419.1 1286.7,420.6 1287.0,422.1 1287.3,423.6 1287.6,425.1 1287.9,426.5 1288.2,428.0 1288.4,429.5 1288.7,431.0 1289.0,432.5 1289.3,433.9 1289.6,435.4 1289.8,436.9 1290.1,438.4 1290.4,439.9 1290.7,441.4 1291.0,442.8 1291.2,444.3 1291.5,445.8 1291.8,447.3 1292.1,448.8 1292.3,450.2 1292.6,451.7 1292.9,453.2 1293.1,454.7 1293.4,456.1 1293.7,457.6 1293.9,459.1 1294.2,460.6 1294.5,462.0 1294.7,463.5 1295.0,465.0 1295.3,466.5 1295.5,468.0 1295.8,469.4 1296.0,470.9 1296.3,472.4 1296.6,473.9 1296.8,475.3 1297.1,476.8 1297.3,478.3 1297.6,479.8 1297.8,481.2 1298.1,482.7 1298.3,484.2 1298.6,485.6 1298.9,487.1 1299.1,488.6 1299.4,490.1 1299.6,491.5 1299.9,493.0 1300.1,494.5 1300.4,496.0 1300.6,497.4 1300.8,498.9 1301.1,500.4 1301.3,501.9 1301.6,503.3 1301.8,504.8 1302.1,506.3 1302.3,507.7 1302.6,509.2 1302.8,510.7 1303.0,512.2 1303.3,513.6 1303.5,515.1 1303.8,516.6 1304.0,518.0 1304.2,519.5 1304.5,521.0 1304.7,522.5 1304.9,523.9 1305.2,525.4 1305.4,526.9 1305.7,528.3 1305.9,529.8 1306.1,531.3 1306.4,532.8 1306.6,534.2 1306.8,535.7 1307.1,537.2 1307.3,538.6 1307.5,540.1 1307.7,541.6 1308.0,543.1 1308.2,544.5 1308.4,546.0 1308.7,547.5 1308.9,549.0 1309.1,550.4 1309.3,551.9 1309.6,553.4 1309.8,554.8 1310.0,556.3 1310.3,557.8 1310.5,559.3 1310.7,560.7 1310.9,562.2 1311.2,563.7 1311.4,565.1 1311.6,566.6 1311.8,568.1 1312.0,569.6 1312.3,571.0 1312.5,572.5 1312.7,574.0 1312.9,575.5 1313.2,576.9 1313.4,578.4 1313.6,579.9 1313.8,581.4 1314.0,582.8 1314.3,584.3 1314.5,585.8 1314.7,587.3 1314.9,588.7 1315.1,590.2 1315.4,591.7 1315.6,593.2 1315.8,594.6 1316.0,596.1 1316.2,597.6 1316.4,599.1 1316.7,600.5 1316.9,602.0 1317.1,603.5 1317.3,605.0 1317.5,606.5 1317.7,607.9 1318.0,609.4 1318.2,610.9 1318.4,612.4 1318.6,613.8 1318.8,615.3 1319.0,616.8 1319.3,618.3 1319.5,619.8 1319.7,621.2 1319.9,622.7 1320.1,624.2 1320.3,625.7 1320.5,627.2 1320.8,628.7 1321.0,630.1 1321.2,631.6 1321.4,633.1 1321.6,634.6 1321.8,636.1 1322.1,637.6 1322.3,639.0 1322.5,640.5 1322.7,642.0 1322.9,643.5 1323.1,645.0 1323.3,646.5 1323.6,647.9 1323.8,649.4 1324.0,650.9 1324.2,652.4 1324.4,653.9 1324.6,655.4 1324.8,656.9 1325.1,658.4 1325.3,659.9 1325.5,661.3 1325.7,662.8 1325.9,664.3 1326.1,665.8 1326.3,667.3 1326.6,668.8 1326.8,670.3 1327.0,671.8 1327.2,673.3 1327.4,674.8 1327.6,676.3 1327.9,677.8 1328.1,679.3 1328.3,680.8 1328.5,682.3 1328.7,683.8 1328.9,685.2 1329.2,686.7 1329.4,688.2 1329.6,689.7 1329.8,691.2 1330.0,692.7 1330.2,694.2 1330.5,695.7 1330.7,697.2 1330.9,698.7 1331.1,700.2 1331.3,701.7 1331.6,703.2 1331.8,704.7 1332.0,706.2 1332.2,707.7 1332.5,709.2 1332.7,710.7 1332.9,712.2 1333.1,713.7 1333.4,715.2 1333.6,716.7 1333.8,718.2 1334.0,719.7 1334.3,721.2 1334.5,722.7 1334.7,724.2 1334.9,725.7 1335.2,727.2 1335.4,728.7 1335.6,730.2 1335.9,731.7 1336.1,733.2 1336.3,734.7 1336.6,736.2 1336.8,737.7 1337.0,739.2 1337.3,740.7 1337.5,742.2 1337.7,743.7 1338.0,745.2 1338.2,746.7 1338.5,748.2 1338.7,749.7 1338.9,751.2 1339.2,752.7 1339.4,754.2 1339.7,755.7 1339.9,757.2 1340.2,758.7 1340.4,760.2 1340.7,761.6 1340.9,763.1 1341.2,764.6 1341.4,766.1 1341.7,767.6 1341.9,769.1 1342.2,770.6 1342.4,772.0 1342.7,773.5 1343.0,775.0 1343.2,776.5 1343.5,778.0 1343.7,779.4 1344.0,780.9 1344.3,782.4 1344.5,783.9 1344.8,785.4 1345.1,786.8 1345.3,788.3 1345.6,789.8 1345.9,791.2 1346.2,792.7 1346.4,794.2 1346.7,795.6 1347.0,797.1 1347.3,798.6 1347.5,800.0 1347.8,801.5 1348.1,803.0 1348.4,804.4 1348.7,805.9 1349.0,807.3 1349.3,808.8 1349.6,810.2 1349.8,811.7 1350.1,813.1 1350.4,814.6 1350.7,816.0 1351.0,817.5 1351.3,818.9 1351.6,820.4 1351.9,821.8 1352.3,823.2 1352.6,824.7 1352.9,826.1 1353.2,827.5 1353.5,829.0 1353.8,830.4 1354.1,831.8 1354.5,833.3 1354.8,834.7 1355.1,836.1 1355.4,837.5 1355.8,839.0 1356.1,840.4 1356.5,841.8 1356.9,843.2 1357.2,844.6 1357.6,846.0 1358.0,847.4 1358.4,848.8 1358.8,850.2 1359.2,851.6 1359.6,853.0 1360.1,854.4 1360.5,855.8 1361.0,857.2 1361.5,858.6 1361.9,860.0 1362.5,861.4 1363.0,862.8 1363.5,864.1 1364.1,865.5 1364.6,866.9 1365.2,868.3 1365.8,869.7 1366.4,871.0 1367.1,872.4 1367.7,873.8 1368.4,875.1 1369.1,876.5 1369.8,877.8 1370.5,879.2 1371.3,880.5 1372.0,881.9 1372.8,883.2 1373.6,884.5 1374.5,885.9 1375.3,887.2 1376.2,888.5 1377.1,889.8 1378.0,891.0 1378.9,892.3 1379.8,893.6 1380.8,894.8 1381.7,896.0 1382.7,897.2 1383.7,898.4 1384.7,899.6 1385.8,900.7 1386.8,901.9 1387.9,903.0 1388.9,904.1 1390.0,905.1 1391.1,906.2 1392.2,907.2 1393.4,908.2 1394.5,909.2 1395.7,910.1 1396.8,911.0 1398.0,911.9 1399.2,912.8 1400.4,913.6 1401.6,914.5 1402.9,915.3 1404.1,916.0 1405.4,916.8 1406.6,917.5 1407.9,918.2 1409.2,918.9 1410.5,919.6 1411.8,920.2 1413.1,920.9 1414.4,921.5 1415.7,922.1 1417.0,922.7 1418.4,923.2 1419.7,923.8 1421.1,924.3 1422.5,924.8 1423.8,925.3 1425.2,925.8 1426.6,926.3 1428.0,926.7 1429.4,927.2 1430.8,927.6 1432.2,928.1 1433.6,928.5 1435.1,928.9 1436.5,929.3 1437.9,929.7 1439.4,930.1 1440.8,930.4 1442.3,930.8 1443.7,931.2 1445.1,931.5 1446.6,931.9 1448.1,932.2 1449.5,932.5 1451.0,932.9 1452.4,933.2 1453.9,933.5 1455.4,933.9 1456.8,934.2 1458.3,934.5 1459.8,934.8 1461.3,935.2 1462.7,935.5 1464.2,935.8 1465.7,936.1 1467.2,936.4 1468.6,936.7 1470.1,937.0 1471.6,937.3 1473.1,937.6 1474.6,937.9 1476.1,938.2 1477.5,938.5 1479.0,938.8 1480.5,939.1 1482.0,939.4 1483.5,939.6 1485.0,939.9 1486.5,940.2 1488.0,940.5 1489.5,940.7 1491.0,941.0 1492.5,941.2 1494.0,941.5 1495.5,941.8 1497.0,942.0 1498.5,942.2 1500.0,942.5 1501.4,942.7 1502.9,943.0 1504.4,943.2 1506.0,943.4 1507.5,943.7 1509.0,943.9 1510.5,944.1 1512.0,944.3 1513.5,944.5 1515.0,944.7 1516.5,944.9 1518.0,945.1 1519.5,945.3 1521.0,945.5 1522.5,945.7 1524.0,945.9 1525.5,946.1 1527.0,946.2 1528.5,946.4 1530.0,946.6 1531.5,946.8 1533.0,946.9 1534.5,947.1 1536.0,947.2 1537.5,947.4 1539.0,947.5 1540.5,947.7 1542.0,947.8 1543.5,947.9 1545.0,948.1 1546.5,948.2 1548.0,948.3 1549.5,948.5 1551.0,948.6 1552.5,948.7 1554.0,948.9 1555.5,949.0 1557.0,949.1 1558.5,949.2 1560.0,949.3 1561.5,949.5 1562.9,949.6 1564.4,949.7 1565.9,949.8 1567.4,949.9 1568.9,950.1 1570.4,950.2 1571.9,950.3 1573.4,950.4 1574.8,950.6 1576.3,950.7 1577.8,950.8 1579.3,950.9 1580.8,951.1 1582.2,951.2 1583.7,951.3 1585.2,951.5 1586.7,951.6 1588.1,951.8 1589.6,951.9 1591.1,952.0 1592.5,952.2 1594.0,952.4 1595.5,952.5 1596.9,952.7 1598.4,952.8 1599.8,953.0" fill="none" stroke="#f00" stroke-width="7.3" stroke-linecap="round" stroke-linejoin="round"/>
<path d="M205.0,152.4 L206.5,152.3 208.0,152.2 209.5,152.1 210.9,152.1 212.4,152.0 213.9,151.9 215.4,151.9 216.9,151.8 218.4,151.7 219.9,151.7 221.4,151.6 222.9,151.5 224.4,151.5 225.9,151.4 227.4,151.3 228.9,151.3 230.4,151.2 231.9,151.2 233.4,151.1 234.9,151.0 236.4,151.0 237.9,150.9 239.4,150.9 240.9,150.8 242.4,150.8 243.9,150.7 245.4,150.7 246.9,150.6 248.4,150.6 249.9,150.5 251.4,150.5 252.9,150.4 254.4,150.4 255.8,150.3 257.3,150.3 258.8,150.2 260.3,150.2 261.8,150.2 263.3,150.1 264.8,150.1 266.3,150.0 267.8,150.0 269.3,149.9 270.8,149.9 272.3,149.9 273.8,149.8 275.3,149.8 276.8,149.8 278.3,149.7 279.8,149.7 281.3,149.7 282.8,149.6 284.3,149.6 285.8,149.6 287.3,149.5 288.8,149.5 290.3,149.5 291.8,149.4 293.3,149.4 294.8,149.4 296.3,149.4 297.8,149.3 299.3,149.3 300.8,149.3 302.3,149.2 303.8,149.2 305.3,149.2 306.8,149.2 308.3,149.2 309.8,149.1 311.3,149.1 312.8,149.1 314.3,149.1 315.8,149.0 317.3,149.0 318.8,149.0 320.2,149.0 321.7,149.0 323.2,149.0 324.7,148.9 326.2,148.9 327.7,148.9 329.2,148.9 330.7,148.9 332.2,148.9 333.7,148.9 335.2,148.8 336.7,148.8 338.2,148.8 339.7,148.8 341.2,148.8 342.7,148.8 344.2,148.8 345.7,148.8 347.2,148.7 348.7,148.7 350.2,148.7 351.7,148.7 353.2,148.7 354.7,148.7 356.2,148.7 357.7,148.7 359.2,148.7 360.7,148.7 362.2,148.7 363.7,148.7 365.2,148.7 366.7,148.7 368.2,148.7 369.7,148.7 371.2,148.7 372.7,148.7 374.2,148.7 375.7,148.7 377.2,148.6 378.7,148.6 380.2,148.6 381.7,148.6 383.2,148.6 384.7,148.6 386.2,148.6 387.7,148.7 389.2,148.7 390.7,148.7 392.2,148.7 393.7,148.7 395.2,148.7 396.7,148.7 398.2,148.7 399.7,148.7 401.2,148.7 402.7,148.7 404.2,148.7 405.7,148.7 407.2,148.7 408.7,148.7 410.2,148.7 411.7,148.7 413.2,148.7 414.7,148.7 416.2,148.7 417.7,148.7 419.2,148.7 420.7,148.7 422.2,148.8 423.7,148.8 425.2,148.8 426.7,148.8 428.2,148.8 429.7,148.8 431.2,148.8 432.7,148.8 434.2,148.8 435.7,148.8 437.2,148.8 438.7,148.8 440.2,148.9 441.7,148.9 443.2,148.9 444.7,148.9 446.2,148.9 447.7,148.9 449.2,148.9 450.7,148.9 452.2,148.9 453.7,148.9 455.2,149.0 456.7,149.0 458.2,149.0 459.7,149.0 461.2,149.0 462.6,149.0 464.1,149.0 465.6,149.0 467.1,149.0 468.6,149.1 470.1,149.1 471.6,149.1 473.1,149.1 474.6,149.1 476.1,149.1 477.6,149.1 479.1,149.1 480.6,149.1 482.1,149.2 483.6,149.2 485.1,149.2 486.6,149.2 488.1,149.2 489.6,149.2 491.1,149.2 492.6,149.2 494.1,149.2 495.6,149.3 497.1,149.3 498.6,149.3 500.1,149.3 501.6,149.3 503.1,149.3 504.6,149.3 506.1,149.3 507.6,149.4 509.1,149.4 510.6,149.4 512.1,149.4 513.6,149.4 515.1,149.4 516.6,149.4 518.1,149.4 519.6,149.4 521.1,149.5 522.6,149.5 524.1,149.5 525.6,149.5 527.1,149.5 528.6,149.5 530.1,149.5 531.6,149.5 533.1,149.6 534.6,149.6 536.1,149.6 537.6,149.6 539.1,149.6 540.6,149.6 542.1,149.6 543.6,149.6 545.1,149.7 546.6,149.7 548.1,149.7 549.6,149.7 551.1,149.7 552.6,149.7 554.1,149.7 555.6,149.7 557.1,149.7 558.6,149.8 560.1,149.8 561.6,149.8 563.1,149.8 564.6,149.8 566.1,149.8 567.6,149.8 569.1,149.8 570.6,149.9 572.1,149.9 573.6,149.9 575.1,149.9 576.6,149.9 578.1,149.9 579.6,149.9 581.1,149.9 582.6,150.0 584.1,150.0 585.6,150.0 587.1,150.0 588.6,150.0 590.1,150.0 591.6,150.0 593.1,150.0 594.6,150.1 596.1,150.1 597.6,150.1 599.1,150.1 600.6,150.1 602.1,150.1 603.6,150.1 605.1,150.1 606.6,150.1 608.1,150.2 609.6,150.2 611.1,150.2 612.6,150.2 614.1,150.2 615.6,150.2 617.1,150.2 618.6,150.2 620.1,150.3 621.6,150.3 623.1,150.3 624.6,150.3 626.1,150.3 627.6,150.3 629.1,150.3 630.6,150.3 632.1,150.4 633.6,150.4 635.1,150.4 636.6,150.4 638.1,150.4 639.6,150.4 641.1,150.4 642.6,150.4 644.1,150.5 645.6,150.5 647.1,150.5 648.6,150.5 650.1,150.5 651.6,150.5 653.1,150.5 654.6,150.5 656.1,150.6 657.6,150.6 659.1,150.6 660.6,150.6 662.1,150.6 663.6,150.6 665.1,150.6 666.6,150.6 668.1,150.7 669.6,150.7 671.1,150.7 672.6,150.7 674.1,150.7 675.6,150.7 677.1,150.7 678.6,150.7 680.1,150.7 681.6,150.8 683.1,150.8 684.6,150.8 686.1,150.8 687.6,150.8 689.1,150.8 690.6,150.8 692.1,150.8 693.6,150.9 695.1,150.9 696.6,150.9 698.1,150.9 699.6,150.9 701.1,150.9 702.6,150.9 704.1,150.9 705.6,151.0 707.1,151.0 708.6,151.0 710.1,151.0 711.6,151.0 713.1,151.0 714.6,151.0 716.1,151.0 717.6,151.0 719.1,151.1 720.6,151.1 722.1,151.1 723.6,151.1 725.1,151.1 726.6,151.1 728.1,151.1 729.6,151.1 731.1,151.2 732.6,151.2 734.1,151.2 735.6,151.2 737.1,151.2 738.6,151.2 740.1,151.2 741.6,151.2 743.1,151.2 744.6,151.3 746.1,151.3 747.6,151.3 749.1,151.3 750.6,151.3 752.1,151.3 753.6,151.3 755.1,151.3 756.6,151.4 758.1,151.4 759.6,151.4 761.1,151.4 762.6,151.4 764.1,151.4 765.6,151.4 767.1,151.4 768.6,151.4 770.1,151.5 771.6,151.5 773.1,151.5 774.6,151.5 776.1,151.5 777.6,151.5 779.1,151.5 780.6,151.5 782.1,151.5 783.6,151.6 785.1,151.6 786.6,151.6 788.1,151.6 789.6,151.6 791.1,151.6 792.6,151.6 794.1,151.6 795.6,151.6 797.1,151.7 798.6,151.7 800.1,151.7 801.6,151.7 803.1,151.7 804.6,151.7 806.1,151.7 807.6,151.7 809.1,151.7 810.6,151.8 812.1,151.8 813.6,151.8 815.1,151.8 816.6,151.8 818.1,151.8 819.6,151.8 821.1,151.8 822.6,151.8 824.1,151.8 825.6,151.9 827.1,151.9 828.6,151.9 830.1,151.9 831.5,151.9 833.0,151.9 834.5,151.9 836.0,151.9 837.5,151.9 839.0,152.0 840.5,152.0 842.0,152.0 843.5,152.0 845.0,152.0 846.5,152.0 848.0,152.0 849.5,152.0 851.0,152.0 852.5,152.0 854.0,152.1 855.5,152.1 857.0,152.1 858.5,152.1 860.0,152.1 861.5,152.1 863.0,152.1 864.5,152.1 866.0,152.1 867.5,152.1 869.0,152.2 870.5,152.2 872.0,152.2 873.5,152.2 875.0,152.2 876.5,152.2 878.0,152.2 879.5,152.2 881.0,152.2 882.5,152.2 884.0,152.2 885.5,152.3 887.0,152.3 888.5,152.3 890.0,152.3 891.5,152.3 893.0,152.3 894.5,152.3 896.0,152.3 897.5,152.3 899.0,152.3 900.5,152.3 902.0,152.4 903.4,152.4 904.9,152.4 906.4,152.4 907.9,152.4 909.4,152.4 910.9,152.4 912.4,152.4 913.9,152.4 915.4,152.4 916.9,152.4 918.4,152.5 919.9,152.5 921.4,152.5 922.9,152.5 924.4,152.5 925.9,152.5 927.4,152.5 928.9,152.5 930.4,152.5 931.9,152.5 933.4,152.5 934.9,152.5 936.4,152.6 937.9,152.6 939.4,152.6 940.9,152.6 942.4,152.6 943.9,152.6 945.4,152.6 946.9,152.6 948.4,152.6 949.9,152.6 951.3,152.6 952.8,152.7 954.3,152.7 955.8,152.7 957.3,152.7 958.8,152.7 960.3,152.7 961.8,152.7 963.3,152.7 964.8,152.7 966.3,152.7 967.8,152.8 969.3,152.8 970.8,152.8 972.3,152.8 973.8,152.8 975.3,152.8 976.8,152.8 978.3,152.8 979.8,152.9 981.3,152.9 982.8,152.9 984.3,152.9 985.8,152.9 987.3,152.9 988.8,153.0 990.3,153.0 991.8,153.0 993.3,153.0 994.8,153.0 996.3,153.1 997.8,153.1 999.2,153.1 1000.7,153.1 1002.2,153.1 1003.7,153.2 1005.2,153.2 1006.7,153.2 1008.2,153.2 1009.7,153.3 1011.2,153.3 1012.7,153.3 1014.2,153.4 1015.7,153.4 1017.2,153.4 1018.7,153.4 1020.2,153.5 1021.7,153.5 1023.2,153.5 1024.7,153.6 1026.2,153.6 1027.7,153.7 1029.2,153.7 1030.7,153.7 1032.2,153.8 1033.7,153.8 1035.2,153.8 1036.7,153.9 1038.2,153.9 1039.7,154.0 1041.2,154.0 1042.7,154.1 1044.2,154.1 1045.7,154.2 1047.2,154.2 1048.7,154.3 1050.2,154.3 1051.7,154.4 1053.2,154.4 1054.7,154.5 1056.2,154.5 1057.7,154.6 1059.2,154.6 1060.7,154.7 1062.2,154.8 1063.7,154.8 1065.2,154.9 1066.7,155.0 1068.2,155.0 1069.7,155.1 1071.2,155.2 1072.7,155.2 1074.2,155.3 1075.7,155.4 1077.2,155.4 1078.7,155.5 1080.2,155.6 1081.7,155.7 1083.2,155.7 1084.7,155.8 1086.2,155.9 1087.7,156.0 1089.2,156.1 1090.7,156.2 1092.2,156.3 1093.7,156.3 1095.2,156.4 1096.7,156.5 1098.2,156.6 1099.7,156.7 1101.2,156.8 1102.8,156.9 1104.3,157.0 1105.8,157.1 1107.3,157.2 1108.8,157.3 1110.3,157.4 1111.8,157.5 1113.3,157.7 1114.8,157.8 1116.3,157.9 1117.8,158.0 1119.3,158.1 1120.8,158.2 1122.3,158.4 1123.8,158.5 1125.3,158.6 1126.8,158.8 1128.3,158.9 1129.8,159.0 1131.3,159.2 1132.8,159.4 1134.3,159.6 1135.8,159.7 1137.3,159.9 1138.8,160.1 1140.3,160.4 1141.8,160.6 1143.2,160.8 1144.7,161.1 1146.2,161.4 1147.6,161.7 1149.1,162.0 1150.5,162.3 1152.0,162.7 1153.4,163.0 1154.9,163.4 1156.3,163.8 1157.7,164.3 1159.1,164.7 1160.6,165.2 1162.0,165.7 1163.4,166.2 1164.7,166.8 1166.1,167.3 1167.5,167.9 1168.9,168.5 1170.2,169.2 1171.6,169.8 1172.9,170.5 1174.2,171.2 1175.6,171.9 1176.9,172.6 1178.2,173.4 1179.5,174.2 1180.8,175.0 1182.0,175.8 1183.3,176.6 1184.5,177.4 1185.8,178.3 1187.0,179.2 1188.2,180.1 1189.4,181.0 1190.6,181.9 1191.8,182.9 1193.0,183.9 1194.1,184.8 1195.3,185.8 1196.4,186.8 1197.5,187.9 1198.6,188.9 1199.7,189.9 1200.7,191.0 1201.8,192.1 1202.8,193.2 1203.9,194.3 1204.9,195.4 1205.9,196.5 1206.8,197.7 1207.8,198.8 1208.8,200.0 1209.7,201.1 1210.6,202.3 1211.5,203.5 1212.4,204.7 1213.2,205.9 1214.1,207.1 1214.9,208.4 1215.8,209.6 1216.6,210.8 1217.4,212.1 1218.2,213.3 1218.9,214.6 1219.7,215.9 1220.5,217.1 1221.2,218.4 1221.9,219.7 1222.7,221.0 1223.4,222.3 1224.1,223.6 1224.8,224.9 1225.5,226.2 1226.2,227.5 1226.9,228.8 1227.5,230.1 1228.2,231.5 1228.9,232.8 1229.5,234.1 1230.2,235.4 1230.8,236.8 1231.5,238.1 1232.1,239.4 1232.8,240.8 1233.4,242.1 1234.0,243.5 1234.6,244.8 1235.3,246.2 1235.9,247.5 1236.5,248.9 1237.1,250.2 1237.7,251.6 1238.2,252.9 1238.8,254.3 1239.4,255.7 1240.0,257.0 1240.6,258.4 1241.1,259.8 1241.7,261.2 1242.2,262.5 1242.8,263.9 1243.3,265.3 1243.9,266.7 1244.4,268.1 1244.9,269.4 1245.5,270.8 1246.0,272.2 1246.5,273.6 1247.0,275.0 1247.6,276.4 1248.1,277.8 1248.6,279.2 1249.1,280.6 1249.6,282.0 1250.1,283.4 1250.5,284.8 1251.0,286.2 1251.5,287.7 1252.0,289.1 1252.5,290.5 1252.9,291.9 1253.4,293.3 1253.8,294.7 1254.3,296.2 1254.8,297.6 1255.2,299.0 1255.6,300.4 1256.1,301.9 1256.5,303.3 1257.0,304.7 1257.4,306.2 1257.8,307.6 1258.2,309.0 1258.7,310.5 1259.1,311.9 1259.5,313.3 1259.9,314.8 1260.3,316.2 1260.7,317.7 1261.1,319.1 1261.5,320.6 1261.9,322.0 1262.3,323.5 1262.7,324.9 1263.1,326.4 1263.5,327.8 1263.9,329.3 1264.2,330.7 1264.6,332.2 1265.0,333.6 1265.4,335.1 1265.7,336.6 1266.1,338.0 1266.5,339.5 1266.8,341.0 1267.2,342.4 1267.5,343.9 1267.9,345.3 1268.2,346.8 1268.6,348.3 1268.9,349.8 1269.3,351.2 1269.6,352.7 1269.9,354.2 1270.3,355.6 1270.6,357.1 1270.9,358.6 1271.3,360.1 1271.6,361.5 1271.9,363.0 1272.2,364.5 1272.6,366.0 1272.9,367.4 1273.2,368.9 1273.5,370.4 1273.8,371.9 1274.1,373.4 1274.4,374.8 1274.8,376.3 1275.1,377.8 1275.4,379.3 1275.7,380.8 1276.0,382.2 1276.3,383.7 1276.6,385.2 1276.9,386.7 1277.2,388.2 1277.5,389.7 1277.7,391.1 1278.0,392.6 1278.3,394.1 1278.6,395.6 1278.9,397.1 1279.2,398.6 1279.5,400.1 1279.8,401.5 1280.0,403.0 1280.3,404.5 1280.6,406.0 1280.9,407.5 1281.2,409.0 1281.5,410.5 1281.7,411.9 1282.0,413.4 1282.3,414.9 1282.6,416.4 1282.8,417.9 1283.1,419.4 1283.4,420.9 1283.7,422.3 1283.9,423.8 1284.2,425.3 1284.5,426.8 1284.7,428.3 1285.0,429.8 1285.3,431.2 1285.6,432.7 1285.8,434.2 1286.1,435.7 1286.4,437.2 1286.6,438.7 1286.9,440.1 1287.2,441.6 1287.4,443.1 1287.7,444.6 1288.0,446.1 1288.2,447.6 1288.5,449.0 1288.8,450.5 1289.0,452.0 1289.3,453.5 1289.6,455.0 1289.8,456.4 1290.1,457.9 1290.4,459.4 1290.6,460.9 1290.9,462.3 1291.1,463.8 1291.4,465.3 1291.7,466.8 1291.9,468.3 1292.2,469.7 1292.5,471.2 1292.7,472.7 1293.0,474.2 1293.2,475.6 1293.5,477.1 1293.7,478.6 1294.0,480.1 1294.3,481.5 1294.5,483.0 1294.8,484.5 1295.0,486.0 1295.3,487.4 1295.5,488.9 1295.8,490.4 1296.1,491.9 1296.3,493.3 1296.6,494.8 1296.8,496.3 1297.1,497.8 1297.3,499.2 1297.6,500.7 1297.8,502.2 1298.1,503.7 1298.3,505.1 1298.6,506.6 1298.8,508.1 1299.1,509.6 1299.3,511.0 1299.6,512.5 1299.8,514.0 1300.1,515.5 1300.3,516.9 1300.6,518.4 1300.8,519.9 1301.1,521.3 1301.3,522.8 1301.6,524.3 1301.8,525.8 1302.1,527.2 1302.3,528.7 1302.6,530.2 1302.8,531.7 1303.1,533.1 1303.3,534.6 1303.5,536.1 1303.8,537.5 1304.0,539.0 1304.3,540.5 1304.5,542.0 1304.8,543.4 1305.0,544.9 1305.2,546.4 1305.5,547.8 1305.7,549.3 1306.0,550.8 1306.2,552.3 1306.4,553.7 1306.7,555.2 1306.9,556.7 1307.1,558.2 1307.4,559.6 1307.6,561.1 1307.9,562.6 1308.1,564.0 1308.3,565.5 1308.6,567.0 1308.8,568.5 1309.0,569.9 1309.3,571.4 1309.5,572.9 1309.7,574.4 1310.0,575.8 1310.2,577.3 1310.4,578.8 1310.7,580.2 1310.9,581.7 1311.1,583.2 1311.4,584.7 1311.6,586.1 1311.8,587.6 1312.0,589.1 1312.3,590.6 1312.5,592.0 1312.7,593.5 1313.0,595.0 1313.2,596.5 1313.4,597.9 1313.6,599.4 1313.9,600.9 1314.1,602.4 1314.3,603.8 1314.5,605.3 1314.8,606.8 1315.0,608.3 1315.2,609.7 1315.4,611.2 1315.6,612.7 1315.9,614.2 1316.1,615.6 1316.3,617.1 1316.5,618.6 1316.7,620.1 1317.0,621.6 1317.2,623.0 1317.4,624.5 1317.6,626.0 1317.8,627.5 1318.0,628.9 1318.3,630.4 1318.5,631.9 1318.7,633.4 1318.9,634.9 1319.1,636.3 1319.3,637.8 1319.6,639.3 1319.8,640.8 1320.0,642.3 1320.2,643.7 1320.4,645.2 1320.6,646.7 1320.8,648.2 1321.0,649.7 1321.2,651.2 1321.5,652.6 1321.7,654.1 1321.9,655.6 1322.1,657.1 1322.3,658.6 1322.5,660.1 1322.7,661.5 1322.9,663.0 1323.1,664.5 1323.3,666.0 1323.5,667.5 1323.7,669.0 1323.9,670.4 1324.1,671.9 1324.3,673.4 1324.5,674.9 1324.7,676.4 1324.9,677.9 1325.1,679.4 1325.3,680.9 1325.5,682.4 1325.7,683.8 1325.9,685.3 1326.1,686.8 1326.3,688.3 1326.5,689.8 1326.7,691.3 1326.9,692.8 1327.1,694.3 1327.3,695.8 1327.5,697.3 1327.7,698.8 1327.9,700.2 1328.1,701.7 1328.3,703.2 1328.5,704.7 1328.7,706.2 1328.9,707.7 1329.1,709.2 1329.3,710.7 1329.5,712.2 1329.7,713.7 1329.9,715.2 1330.1,716.7 1330.3,718.2 1330.6,719.7 1330.8,721.1 1331.0,722.6 1331.2,724.1 1331.4,725.6 1331.6,727.1 1331.8,728.6 1332.0,730.1 1332.2,731.6 1332.4,733.1 1332.7,734.6 1332.9,736.1 1333.1,737.6 1333.3,739.0 1333.5,740.5 1333.8,742.0 1334.0,743.5 1334.2,745.0 1334.5,746.5 1334.7,748.0 1334.9,749.5 1335.2,751.0 1335.4,752.4 1335.6,753.9 1335.9,755.4 1336.1,756.9 1336.4,758.4 1336.6,759.9 1336.9,761.4 1337.1,762.8 1337.4,764.3 1337.6,765.8 1337.9,767.3 1338.1,768.8 1338.4,770.3 1338.7,771.7 1338.9,773.2 1339.2,774.7 1339.5,776.2 1339.8,777.7 1340.0,779.1 1340.3,780.6 1340.6,782.1 1340.9,783.6 1341.2,785.0 1341.5,786.5 1341.8,788.0 1342.1,789.5 1342.4,790.9 1342.7,792.4 1343.0,793.9 1343.3,795.3 1343.6,796.8 1344.0,798.3 1344.3,799.7 1344.6,801.2 1345.0,802.7 1345.3,804.1 1345.6,805.6 1346.0,807.1 1346.3,808.5 1346.7,810.0 1347.0,811.4 1347.4,812.9 1347.8,814.3 1348.1,815.8 1348.5,817.3 1348.9,818.7 1349.3,820.2 1349.6,821.6 1350.0,823.1 1350.4,824.5 1350.8,826.0 1351.2,827.4 1351.7,828.8 1352.1,830.3 1352.5,831.7 1353.0,833.1 1353.5,834.5 1353.9,835.9 1354.4,837.3 1355.0,838.7 1355.5,840.1 1356.0,841.5 1356.6,842.9 1357.2,844.2 1357.8,845.6 1358.4,846.9 1359.1,848.3 1359.7,849.6 1360.4,850.9 1361.1,852.2 1361.9,853.5 1362.6,854.8 1363.4,856.0 1364.2,857.3 1365.0,858.6 1365.8,859.8 1366.6,861.0 1367.5,862.2 1368.4,863.4 1369.3,864.6 1370.2,865.8 1371.1,867.0 1372.0,868.1 1373.0,869.3 1373.9,870.4 1374.9,871.5 1375.9,872.6 1376.9,873.7 1378.0,874.8 1379.0,875.9 1380.1,876.9 1381.1,878.0 1382.2,879.0 1383.3,880.0 1384.4,881.0 1385.5,882.0 1386.7,883.0 1387.8,884.0 1389.0,884.9 1390.1,885.9 1391.3,886.8 1392.5,887.7 1393.7,888.6 1394.9,889.5 1396.1,890.4 1397.4,891.2 1398.6,892.1 1399.9,892.9 1401.1,893.7 1402.4,894.5 1403.7,895.3 1404.9,896.1 1406.2,896.8 1407.5,897.5 1408.8,898.3 1410.1,899.0 1411.5,899.7 1412.8,900.3 1414.1,901.0 1415.5,901.7 1416.8,902.3 1418.1,902.9 1419.5,903.5 1420.9,904.1 1422.2,904.7 1423.6,905.2 1425.0,905.8 1426.3,906.3 1427.7,906.8 1429.1,907.3 1430.5,907.8 1431.9,908.3 1433.3,908.7 1434.7,909.2 1436.1,909.6 1437.5,910.0 1438.9,910.4 1440.4,910.8 1441.8,911.2 1443.2,911.6 1444.7,912.0 1446.1,912.3 1447.5,912.7 1449.0,913.0 1450.4,913.3 1451.9,913.7 1453.4,914.0 1454.8,914.3 1456.3,914.5 1457.7,914.8 1459.2,915.1 1460.7,915.4 1462.2,915.6 1463.6,915.9 1465.1,916.1 1466.6,916.4 1468.1,916.6 1469.6,916.8 1471.1,917.0 1472.6,917.2 1474.1,917.4 1475.6,917.6 1477.1,917.8 1478.6,918.0 1480.1,918.2 1481.6,918.4 1483.1,918.6 1484.6,918.7 1486.1,918.9 1487.6,919.1 1489.1,919.2 1490.6,919.4 1492.2,919.5 1493.7,919.7 1495.2,919.8 1496.7,920.0 1498.2,920.1 1499.8,920.3 1501.3,920.4 1502.8,920.6 1504.3,920.7 1505.9,920.8 1507.4,921.0 1508.9,921.1 1510.4,921.3 1512.0,921.4 1513.5,921.5 1515.0,921.7 1516.5,921.8 1518.1,922.0 1519.6,922.1 1521.1,922.3 1522.6,922.4 1524.2,922.6 1525.7,922.7 1527.2,922.9 1528.7,923.1 1530.3,923.2 1531.8,923.4 1533.3,923.6 1534.8,923.7 1536.4,923.9 1537.9,924.1 1539.4,924.3 1540.9,924.5 1542.4,924.7 1543.9,924.9 1545.4,925.1 1547.0,925.3 1548.5,925.4 1550.0,925.6 1551.5,925.8 1553.0,926.0 1554.5,926.2 1556.0,926.4 1557.5,926.6 1559.0,926.8 1560.5,927.0 1561.9,927.2 1563.4,927.4 1564.9,927.6 1566.4,927.8 1567.9,928.0 1569.3,928.1 1570.8,928.3 1572.3,928.5 1573.8,928.7 1575.2,928.8 1576.7,929.0 1578.1,929.2 1579.6,929.3 1581.0,929.5 1582.5,929.6 1583.9,929.7 1585.4,929.9 1586.8,930.0 1588.2,930.1 1589.7,930.3 1591.1,930.4 1592.5,930.5 1593.9,930.6 1595.3,930.7 1596.7,930.8 1598.1,930.8 1599.5,930.9" fill="none" stroke="#00f" stroke-width="7.3" stroke-linecap="round" stroke-linejoin="round"/>
<path d="M201.5,151.6 L203.0,151.6 204.5,151.5 206.0,151.5 207.5,151.5 209.0,151.4 210.5,151.4 212.0,151.4 213.5,151.4 215.0,151.3 216.5,151.3 218.0,151.3 219.5,151.2 221.0,151.2 222.5,151.2 224.0,151.1 225.5,151.1 227.0,151.1 228.5,151.1 230.0,151.0 231.5,151.0 233.0,151.0 234.5,150.9 236.0,150.9 237.5,150.9 239.0,150.9 240.5,150.8 242.0,150.8 243.5,150.8 245.0,150.8 246.5,150.7 248.0,150.7 249.5,150.7 250.9,150.7 252.4,150.7 253.9,150.6 255.4,150.6 256.9,150.6 258.4,150.6 259.9,150.5 261.4,150.5 262.9,150.5 264.4,150.5 265.9,150.5 267.4,150.4 268.9,150.4 270.4,150.4 271.9,150.4 273.4,150.4 274.9,150.3 276.4,150.3 277.9,150.3 279.4,150.3 280.9,150.3 282.4,150.3 283.9,150.2 285.4,150.2 286.9,150.2 288.4,150.2 289.9,150.2 291.4,150.2 292.9,150.1 294.4,150.1 295.9,150.1 297.4,150.1 298.9,150.1 300.4,150.1 301.9,150.1 303.4,150.1 304.9,150.0 306.4,150.0 307.9,150.0 309.4,150.0 310.9,150.0 312.4,150.0 313.9,150.0 315.4,150.0 316.9,149.9 318.4,149.9 319.9,149.9 321.4,149.9 322.9,149.9 324.4,149.9 325.9,149.9 327.4,149.9 328.9,149.9 330.4,149.9 331.9,149.9 333.4,149.8 334.9,149.8 336.4,149.8 337.9,149.8 339.4,149.8 340.9,149.8 342.4,149.8 343.9,149.8 345.4,149.8 346.9,149.8 348.4,149.8 349.9,149.8 351.4,149.8 352.9,149.8 354.4,149.8 355.9,149.8 357.4,149.8 358.9,149.8 360.4,149.8 361.9,149.7 363.4,149.7 364.9,149.7 366.4,149.7 367.9,149.7 369.4,149.7 370.9,149.7 372.4,149.7 373.9,149.7 375.4,149.7 376.9,149.7 378.4,149.7 379.9,149.7 381.4,149.7 382.9,149.7 384.4,149.7 385.9,149.7 387.4,149.7 388.9,149.7 390.4,149.7 391.9,149.7 393.4,149.7 394.9,149.7 396.4,149.7 397.9,149.7 399.4,149.7 400.9,149.7 402.4,149.7 403.9,149.8 405.4,149.8 406.9,149.8 408.4,149.8 409.9,149.8 411.4,149.8 412.9,149.8 414.4,149.8 415.9,149.8 417.4,149.8 418.9,149.8 420.4,149.8 421.9,149.8 423.4,149.8 424.9,149.8 426.4,149.8 427.9,149.8 429.4,149.8 430.9,149.8 432.4,149.8 433.9,149.9 435.4,149.9 436.9,149.9 438.4,149.9 439.9,149.9 441.4,149.9 442.9,149.9 444.4,149.9 445.9,149.9 447.4,149.9 448.9,149.9 450.4,149.9 451.9,149.9 453.4,150.0 454.9,150.0 456.4,150.0 457.9,150.0 459.4,150.0 460.9,150.0 462.4,150.0 463.9,150.0 465.4,150.0 466.9,150.0 468.4,150.1 469.9,150.1 471.4,150.1 472.9,150.1 474.4,150.1 475.9,150.1 477.4,150.1 478.9,150.1 480.4,150.2 481.9,150.2 483.4,150.2 484.9,150.2 486.4,150.2 487.9,150.2 489.4,150.2 490.9,150.2 492.4,150.3 493.9,150.3 495.4,150.3 496.9,150.3 498.4,150.3 499.9,150.3 501.4,150.3 502.9,150.4 504.4,150.4 505.9,150.4 507.4,150.4 508.9,150.4 510.4,150.4 511.9,150.4 513.4,150.5 514.9,150.5 516.4,150.5 517.9,150.5 519.4,150.5 520.9,150.5 522.4,150.6 523.9,150.6 525.4,150.6 526.9,150.6 528.4,150.6 529.9,150.6 531.4,150.7 532.9,150.7 534.4,150.7 535.9,150.7 537.4,150.7 538.9,150.7 540.4,150.8 541.9,150.8 543.4,150.8 544.9,150.8 546.4,150.8 547.9,150.8 549.4,150.9 550.9,150.9 552.4,150.9 553.9,150.9 555.4,150.9 556.9,151.0 558.4,151.0 559.9,151.0 561.4,151.0 562.9,151.0 564.4,151.0 565.9,151.1 567.5,151.1 569.0,151.1 570.5,151.1 572.0,151.1 573.5,151.2 575.0,151.2 576.5,151.2 578.0,151.2 579.5,151.2 581.0,151.3 582.5,151.3 584.0,151.3 585.5,151.3 587.0,151.3 588.5,151.4 590.0,151.4 591.5,151.4 593.0,151.4 594.5,151.4 596.0,151.5 597.5,151.5 599.0,151.5 600.5,151.5 602.0,151.6 603.5,151.6 605.0,151.6 606.5,151.6 608.0,151.6 609.5,151.7 611.0,151.7 612.5,151.7 614.0,151.7 615.5,151.7 617.0,151.8 618.5,151.8 620.0,151.8 621.5,151.8 623.0,151.9 624.5,151.9 626.0,151.9 627.5,151.9 629.0,151.9 630.5,152.0 632.0,152.0 633.5,152.0 635.0,152.0 636.5,152.1 638.0,152.1 639.5,152.1 641.0,152.1 642.5,152.2 644.0,152.2 645.5,152.2 647.0,152.2 648.5,152.2 650.0,152.3 651.5,152.3 653.0,152.3 654.5,152.3 656.0,152.4 657.5,152.4 659.0,152.4 660.5,152.4 662.0,152.5 663.5,152.5 665.0,152.5 666.5,152.5 668.0,152.5 669.5,152.6 671.0,152.6 672.5,152.6 674.0,152.6 675.5,152.7 677.0,152.7 678.5,152.7 680.0,152.7 681.5,152.8 683.0,152.8 684.5,152.8 686.0,152.8 687.5,152.9 689.0,152.9 690.5,152.9 692.0,152.9 693.5,152.9 695.0,153.0 696.5,153.0 698.0,153.0 699.5,153.0 701.0,153.1 702.5,153.1 704.0,153.1 705.5,153.1 707.0,153.2 708.5,153.2 710.0,153.2 711.5,153.2 713.0,153.3 714.5,153.3 716.0,153.3 717.5,153.3 719.0,153.3 720.5,153.4 722.0,153.4 723.5,153.4 725.0,153.4 726.5,153.5 728.0,153.5 729.5,153.5 731.0,153.5 732.5,153.6 734.0,153.6 735.5,153.6 737.0,153.6 738.5,153.7 740.0,153.7 741.5,153.7 743.0,153.7 744.5,153.7 746.0,153.8 747.5,153.8 749.0,153.8 750.5,153.8 752.0,153.9 753.5,153.9 755.0,153.9 756.5,153.9 758.0,154.0 759.5,154.0 761.0,154.0 762.5,154.0 764.0,154.1 765.5,154.1 767.0,154.1 768.5,154.1 770.0,154.1 771.5,154.2 773.0,154.2 774.5,154.2 776.0,154.2 777.5,154.3 779.0,154.3 780.5,154.3 782.0,154.3 783.5,154.3 785.0,154.4 786.5,154.4 788.0,154.4 789.5,154.4 791.0,154.5 792.5,154.5 794.0,154.5 795.5,154.5 797.0,154.5 798.5,154.6 800.0,154.6 801.5,154.6 803.0,154.6 804.5,154.7 806.0,154.7 807.5,154.7 809.0,154.7 810.5,154.7 812.0,154.8 813.5,154.8 815.0,154.8 816.5,154.8 818.0,154.8 819.5,154.9 821.0,154.9 822.5,154.9 824.0,154.9 825.5,154.9 827.0,155.0 828.5,155.0 830.0,155.0 831.4,155.0 832.9,155.1 834.4,155.1 835.9,155.1 837.4,155.1 838.9,155.1 840.4,155.1 841.9,155.2 843.4,155.2 844.9,155.2 846.4,155.2 847.9,155.2 849.4,155.3 850.9,155.3 852.4,155.3 853.9,155.3 855.4,155.3 856.9,155.4 858.4,155.4 859.9,155.4 861.4,155.4 862.9,155.4 864.4,155.5 865.9,155.5 867.4,155.5 868.9,155.5 870.4,155.5 871.9,155.5 873.4,155.6 874.9,155.6 876.4,155.6 877.9,155.6 879.4,155.6 880.9,155.6 882.4,155.7 883.9,155.7 885.4,155.7 886.9,155.7 888.4,155.7 889.8,155.7 891.3,155.8 892.8,155.8 894.3,155.8 895.8,155.8 897.3,155.8 898.8,155.8 900.3,155.9 901.8,155.9 903.3,155.9 904.8,155.9 906.3,155.9 907.8,155.9 909.3,155.9 910.8,156.0 912.3,156.0 913.8,156.0 915.3,156.0 916.8,156.0 918.3,156.0 919.8,156.0 921.3,156.1 922.8,156.1 924.3,156.1 925.8,156.1 927.3,156.1 928.8,156.1 930.2,156.1 931.7,156.1 933.2,156.2 934.7,156.2 936.2,156.2 937.7,156.2 939.2,156.2 940.7,156.2 942.2,156.2 943.7,156.2 945.2,156.3 946.7,156.3 948.2,156.3 949.7,156.3 951.2,156.3 952.7,156.3 954.2,156.3 955.7,156.3 957.2,156.4 958.7,156.4 960.2,156.4 961.7,156.4 963.2,156.4 964.6,156.4 966.1,156.4 967.6,156.5 969.1,156.5 970.6,156.5 972.1,156.5 973.6,156.5 975.1,156.6 976.6,156.6 978.1,156.6 979.6,156.6 981.1,156.6 982.6,156.7 984.1,156.7 985.6,156.7 987.1,156.7 988.6,156.8 990.1,156.8 991.6,156.8 993.1,156.8 994.6,156.9 996.1,156.9 997.6,156.9 999.1,157.0 1000.6,157.0 1002.1,157.0 1003.6,157.1 1005.1,157.1 1006.5,157.1 1008.0,157.2 1009.5,157.2 1011.0,157.3 1012.5,157.3 1014.0,157.3 1015.5,157.4 1017.0,157.4 1018.5,157.5 1020.0,157.5 1021.5,157.6 1023.0,157.6 1024.5,157.7 1026.0,157.7 1027.5,157.8 1029.0,157.9 1030.5,157.9 1032.0,158.0 1033.5,158.0 1035.0,158.1 1036.5,158.2 1038.0,158.2 1039.5,158.3 1041.0,158.4 1042.5,158.4 1044.0,158.5 1045.5,158.6 1047.0,158.7 1048.5,158.7 1050.1,158.8 1051.6,158.9 1053.1,159.0 1054.6,159.1 1056.1,159.2 1057.6,159.3 1059.1,159.4 1060.6,159.5 1062.1,159.6 1063.6,159.7 1065.1,159.8 1066.6,159.9 1068.1,160.0 1069.6,160.1 1071.1,160.2 1072.6,160.3 1074.1,160.4 1075.6,160.5 1077.1,160.6 1078.6,160.8 1080.2,160.9 1081.7,161.0 1083.2,161.1 1084.7,161.3 1086.2,161.4 1087.7,161.5 1089.2,161.7 1090.7,161.8 1092.2,162.0 1093.7,162.1 1095.2,162.3 1096.8,162.4 1098.3,162.6 1099.8,162.7 1101.3,162.9 1102.8,163.0 1104.3,163.2 1105.8,163.4 1107.3,163.6 1108.9,163.7 1110.4,163.9 1111.9,164.1 1113.4,164.3 1114.9,164.5 1116.4,164.6 1117.9,164.8 1119.5,165.0 1121.0,165.2 1122.5,165.4 1124.0,165.6 1125.5,165.8 1127.0,166.1 1128.5,166.3 1130.1,166.5 1131.6,166.8 1133.1,167.0 1134.6,167.3 1136.0,167.6 1137.5,167.9 1139.0,168.2 1140.5,168.5 1142.0,168.8 1143.4,169.2 1144.9,169.5 1146.3,169.9 1147.8,170.3 1149.2,170.7 1150.6,171.1 1152.0,171.6 1153.4,172.1 1154.8,172.6 1156.2,173.1 1157.6,173.6 1158.9,174.2 1160.2,174.8 1161.6,175.4 1162.9,176.0 1164.2,176.7 1165.5,177.4 1166.8,178.1 1168.0,178.8 1169.3,179.6 1170.5,180.4 1171.8,181.2 1173.0,182.0 1174.2,182.8 1175.4,183.7 1176.6,184.5 1177.7,185.4 1178.9,186.4 1180.1,187.3 1181.2,188.2 1182.3,189.2 1183.4,190.2 1184.5,191.2 1185.6,192.2 1186.7,193.2 1187.8,194.3 1188.8,195.3 1189.9,196.4 1190.9,197.5 1191.9,198.6 1193.0,199.7 1194.0,200.8 1195.0,201.9 1195.9,203.0 1196.9,204.2 1197.9,205.3 1198.8,206.5 1199.8,207.6 1200.7,208.8 1201.6,210.0 1202.6,211.2 1203.5,212.4 1204.4,213.6 1205.3,214.8 1206.1,216.0 1207.0,217.2 1207.9,218.4 1208.7,219.6 1209.5,220.8 1210.4,222.1 1211.2,223.3 1212.0,224.5 1212.8,225.8 1213.6,227.0 1214.4,228.3 1215.2,229.6 1216.0,230.8 1216.7,232.1 1217.5,233.4 1218.2,234.6 1219.0,235.9 1219.7,237.2 1220.4,238.5 1221.1,239.8 1221.8,241.1 1222.5,242.4 1223.2,243.7 1223.9,245.0 1224.6,246.4 1225.3,247.7 1225.9,249.0 1226.6,250.3 1227.2,251.7 1227.9,253.0 1228.5,254.3 1229.1,255.7 1229.7,257.0 1230.4,258.4 1231.0,259.7 1231.6,261.1 1232.2,262.5 1232.7,263.8 1233.3,265.2 1233.9,266.6 1234.5,268.0 1235.0,269.3 1235.6,270.7 1236.1,272.1 1236.7,273.5 1237.2,274.9 1237.7,276.3 1238.2,277.7 1238.8,279.1 1239.3,280.5 1239.8,281.9 1240.3,283.3 1240.8,284.7 1241.3,286.1 1241.8,287.6 1242.2,289.0 1242.7,290.4 1243.2,291.8 1243.6,293.3 1244.1,294.7 1244.6,296.1 1245.0,297.6 1245.5,299.0 1245.9,300.4 1246.3,301.9 1246.8,303.3 1247.2,304.8 1247.6,306.2 1248.0,307.7 1248.4,309.1 1248.9,310.6 1249.3,312.0 1249.7,313.5 1250.1,314.9 1250.5,316.4 1250.8,317.9 1251.2,319.3 1251.6,320.8 1252.0,322.3 1252.4,323.7 1252.7,325.2 1253.1,326.7 1253.5,328.2 1253.8,329.6 1254.2,331.1 1254.6,332.6 1254.9,334.1 1255.3,335.5 1255.6,337.0 1256.0,338.5 1256.3,340.0 1256.6,341.5 1257.0,342.9 1257.3,344.4 1257.7,345.9 1258.0,347.4 1258.3,348.9 1258.6,350.4 1259.0,351.9 1259.3,353.4 1259.6,354.8 1259.9,356.3 1260.2,357.8 1260.6,359.3 1260.9,360.8 1261.2,362.3 1261.5,363.8 1261.8,365.3 1262.1,366.8 1262.4,368.3 1262.7,369.7 1263.0,371.2 1263.3,372.7 1263.6,374.2 1263.9,375.7 1264.3,377.2 1264.6,378.7 1264.9,380.2 1265.2,381.7 1265.5,383.1 1265.7,384.6 1266.0,386.1 1266.3,387.6 1266.6,389.1 1266.9,390.6 1267.2,392.1 1267.5,393.5 1267.8,395.0 1268.1,396.5 1268.4,398.0 1268.7,399.5 1269.0,401.0 1269.3,402.5 1269.6,403.9 1269.9,405.4 1270.2,406.9 1270.5,408.4 1270.7,409.9 1271.0,411.3 1271.3,412.8 1271.6,414.3 1271.9,415.8 1272.2,417.3 1272.5,418.7 1272.8,420.2 1273.0,421.7 1273.3,423.2 1273.6,424.7 1273.9,426.1 1274.2,427.6 1274.5,429.1 1274.7,430.6 1275.0,432.0 1275.3,433.5 1275.6,435.0 1275.9,436.5 1276.1,437.9 1276.4,439.4 1276.7,440.9 1277.0,442.4 1277.2,443.8 1277.5,445.3 1277.8,446.8 1278.1,448.3 1278.3,449.7 1278.6,451.2 1278.9,452.7 1279.2,454.2 1279.4,455.6 1279.7,457.1 1280.0,458.6 1280.2,460.1 1280.5,461.5 1280.8,463.0 1281.1,464.5 1281.3,465.9 1281.6,467.4 1281.9,468.9 1282.1,470.4 1282.4,471.8 1282.7,473.3 1282.9,474.8 1283.2,476.2 1283.5,477.7 1283.7,479.2 1284.0,480.6 1284.2,482.1 1284.5,483.6 1284.8,485.1 1285.0,486.5 1285.3,488.0 1285.5,489.5 1285.8,490.9 1286.1,492.4 1286.3,493.9 1286.6,495.3 1286.8,496.8 1287.1,498.3 1287.3,499.8 1287.6,501.2 1287.8,502.7 1288.1,504.2 1288.4,505.6 1288.6,507.1 1288.9,508.6 1289.1,510.0 1289.4,511.5 1289.6,513.0 1289.9,514.4 1290.1,515.9 1290.4,517.4 1290.6,518.9 1290.9,520.3 1291.1,521.8 1291.3,523.3 1291.6,524.7 1291.8,526.2 1292.1,527.7 1292.3,529.1 1292.6,530.6 1292.8,532.1 1293.1,533.5 1293.3,535.0 1293.5,536.5 1293.8,538.0 1294.0,539.4 1294.3,540.9 1294.5,542.4 1294.7,543.8 1295.0,545.3 1295.2,546.8 1295.4,548.2 1295.7,549.7 1295.9,551.2 1296.2,552.7 1296.4,554.1 1296.6,555.6 1296.9,557.1 1297.1,558.5 1297.3,560.0 1297.5,561.5 1297.8,563.0 1298.0,564.4 1298.2,565.9 1298.5,567.4 1298.7,568.8 1298.9,570.3 1299.2,571.8 1299.4,573.3 1299.6,574.7 1299.8,576.2 1300.1,577.7 1300.3,579.1 1300.5,580.6 1300.7,582.1 1301.0,583.6 1301.2,585.0 1301.4,586.5 1301.6,588.0 1301.8,589.5 1302.1,590.9 1302.3,592.4 1302.5,593.9 1302.7,595.4 1302.9,596.8 1303.1,598.3 1303.4,599.8 1303.6,601.3 1303.8,602.8 1304.0,604.2 1304.2,605.7 1304.4,607.2 1304.7,608.7 1304.9,610.1 1305.1,611.6 1305.3,613.1 1305.5,614.6 1305.7,616.1 1305.9,617.5 1306.1,619.0 1306.3,620.5 1306.5,622.0 1306.8,623.5 1307.0,624.9 1307.2,626.4 1307.4,627.9 1307.6,629.4 1307.8,630.9 1308.0,632.4 1308.2,633.8 1308.4,635.3 1308.6,636.8 1308.8,638.3 1309.0,639.8 1309.2,641.3 1309.4,642.8 1309.6,644.2 1309.8,645.7 1310.0,647.2 1310.2,648.7 1310.4,650.2 1310.6,651.7 1310.8,653.2 1311.0,654.7 1311.2,656.1 1311.4,657.6 1311.6,659.1 1311.8,660.6 1312.0,662.1 1312.2,663.6 1312.4,665.1 1312.6,666.6 1312.8,668.1 1313.0,669.5 1313.2,671.0 1313.4,672.5 1313.6,674.0 1313.9,675.5 1314.1,677.0 1314.3,678.5 1314.5,680.0 1314.7,681.5 1314.9,683.0 1315.1,684.4 1315.3,685.9 1315.5,687.4 1315.7,688.9 1316.0,690.4 1316.2,691.9 1316.4,693.4 1316.6,694.9 1316.8,696.4 1317.0,697.9 1317.3,699.4 1317.5,700.8 1317.7,702.3 1317.9,703.8 1318.2,705.3 1318.4,706.8 1318.6,708.3 1318.9,709.8 1319.1,711.3 1319.3,712.8 1319.6,714.3 1319.8,715.7 1320.1,717.2 1320.3,718.7 1320.5,720.2 1320.8,721.7 1321.0,723.2 1321.3,724.7 1321.5,726.2 1321.8,727.7 1322.1,729.1 1322.3,730.6 1322.6,732.1 1322.8,733.6 1323.1,735.1 1323.4,736.6 1323.6,738.1 1323.9,739.6 1324.2,741.0 1324.5,742.5 1324.8,744.0 1325.0,745.5 1325.3,747.0 1325.6,748.5 1325.9,749.9 1326.2,751.4 1326.5,752.9 1326.8,754.4 1327.1,755.9 1327.4,757.4 1327.7,758.8 1328.0,760.3 1328.3,761.8 1328.7,763.3 1329.0,764.8 1329.3,766.3 1329.6,767.7 1330.0,769.2 1330.3,770.7 1330.6,772.2 1331.0,773.6 1331.3,775.1 1331.7,776.6 1332.0,778.1 1332.4,779.5 1332.7,781.0 1333.1,782.5 1333.5,784.0 1333.8,785.4 1334.2,786.9 1334.6,788.4 1335.0,789.9 1335.4,791.3 1335.8,792.8 1336.2,794.2 1336.6,795.7 1337.0,797.1 1337.4,798.6 1337.9,800.0 1338.3,801.5 1338.8,802.9 1339.2,804.3 1339.7,805.8 1340.2,807.2 1340.7,808.6 1341.2,810.0 1341.7,811.4 1342.3,812.8 1342.8,814.2 1343.4,815.6 1344.0,816.9 1344.5,818.3 1345.1,819.7 1345.8,821.0 1346.4,822.4 1347.0,823.7 1347.7,825.0 1348.4,826.3 1349.1,827.6 1349.8,828.9 1350.5,830.2 1351.3,831.4 1352.1,832.7 1352.8,834.0 1353.7,835.2 1354.5,836.4 1355.3,837.6 1356.2,838.8 1357.1,840.0 1358.0,841.2 1358.9,842.3 1359.8,843.5 1360.8,844.6 1361.7,845.8 1362.7,846.9 1363.7,848.0 1364.7,849.1 1365.7,850.2 1366.8,851.2 1367.8,852.3 1368.9,853.3 1370.0,854.3 1371.1,855.4 1372.2,856.4 1373.3,857.3 1374.4,858.3 1375.6,859.3 1376.8,860.2 1377.9,861.2 1379.1,862.1 1380.3,863.0 1381.5,863.9 1382.7,864.8 1384.0,865.7 1385.2,866.5 1386.4,867.4 1387.7,868.2 1389.0,869.0 1390.2,869.8 1391.5,870.6 1392.8,871.4 1394.1,872.1 1395.4,872.9 1396.8,873.6 1398.1,874.3 1399.4,875.0 1400.7,875.7 1402.1,876.4 1403.4,877.1 1404.8,877.7 1406.2,878.3 1407.5,879.0 1408.9,879.6 1410.3,880.1 1411.7,880.7 1413.0,881.3 1414.4,881.8 1415.8,882.3 1417.2,882.9 1418.6,883.4 1420.0,883.8 1421.4,884.3 1422.8,884.8 1424.3,885.2 1425.7,885.6 1427.1,886.1 1428.5,886.5 1429.9,886.9 1431.4,887.3 1432.8,887.6 1434.2,888.0 1435.7,888.3 1437.1,888.7 1438.5,889.0 1440.0,889.3 1441.4,889.7 1442.9,890.0 1444.3,890.3 1445.8,890.5 1447.2,890.8 1448.7,891.1 1450.2,891.4 1451.6,891.6 1453.1,891.9 1454.5,892.2 1456.0,892.4 1457.5,892.6 1459.0,892.9 1460.4,893.1 1461.9,893.3 1463.4,893.6 1464.9,893.8 1466.3,894.0 1467.8,894.2 1469.3,894.5 1470.8,894.7 1472.3,894.9 1473.8,895.1 1475.3,895.3 1476.7,895.5 1478.2,895.8 1479.7,896.0 1481.2,896.2 1482.7,896.4 1484.2,896.6 1485.7,896.8 1487.2,897.1 1488.7,897.3 1490.2,897.5 1491.7,897.8 1493.2,898.0 1494.7,898.2 1496.2,898.5 1497.7,898.7 1499.2,899.0 1500.7,899.3 1502.2,899.5 1503.7,899.8 1505.2,900.0 1506.7,900.3 1508.2,900.6 1509.7,900.9 1511.2,901.1 1512.7,901.4 1514.2,901.7 1515.7,902.0 1517.2,902.3 1518.7,902.6 1520.2,902.8 1521.8,903.1 1523.3,903.4 1524.8,903.7 1526.3,904.0 1527.8,904.3 1529.3,904.6 1530.8,904.9 1532.3,905.2 1533.8,905.5 1535.3,905.8 1536.8,906.1 1538.3,906.4 1539.7,906.7 1541.2,907.0 1542.7,907.3 1544.2,907.6 1545.7,907.9 1547.2,908.2 1548.7,908.5 1550.2,908.8 1551.7,909.1 1553.2,909.4 1554.6,909.7 1556.1,910.0 1557.6,910.3 1559.1,910.5 1560.6,910.8 1562.0,911.1 1563.5,911.4 1565.0,911.6 1566.4,911.9 1567.9,912.2 1569.4,912.4 1570.8,912.7 1572.3,912.9 1573.8,913.2 1575.2,913.4 1576.7,913.7 1578.1,913.9 1579.6,914.1 1581.0,914.3 1582.5,914.6 1583.9,914.8 1585.4,915.0 1586.8,915.2 1588.2,915.3 1589.7,915.5 1591.1,915.7 1592.5,915.9 1594.0,916.0 1595.4,916.2 1596.8,916.3 1598.2,916.5 1599.6,916.6" fill="none" stroke="#f0f" stroke-width="7.3" stroke-linecap="round" stroke-linejoin="round"/>
</g>
<rect x="165.4" y="56.1" width="1431.5" height="1065.4" fill="none" stroke="#000" stroke-width="3.8" stroke-linejoin="miter"/>
<path d="M230.5,1120.5 V1111.0 M295.5,1120.5 V1101.5 M360.6,1120.5 V1111.0 M425.7,1120.5 V1101.5 M490.7,1120.5 V1111.0 M555.8,1120.5 V1101.5 M620.9,1120.5 V1111.0 M685.9,1120.5 V1101.5 M751.0,1120.5 V1111.0 M816.1,1120.5 V1101.5 M881.1,1120.5 V1111.0 M946.2,1120.5 V1101.5 M1011.3,1120.5 V1111.0 M1076.4,1120.5 V1101.5 M1141.4,1120.5 V1111.0 M1206.5,1120.5 V1101.5 M1271.6,1120.5 V1111.0 M1336.6,1120.5 V1101.5 M1401.7,1120.5 V1111.0 M1466.8,1120.5 V1101.5 M1531.8,1120.5 V1111.0 M166.4,1024.6 H176.4 M166.4,927.7 H186.4 M166.4,830.8 H176.4 M166.4,733.9 H186.4 M166.4,637.0 H176.4 M166.4,540.1 H186.4 M166.4,443.2 H176.4 M166.4,346.3 H186.4 M166.4,249.4 H176.4 M166.4,152.5 H186.4" stroke="#000" stroke-width="3.6" stroke-linecap="round" fill="none"/>
<text transform="translate(154.87,1173.40) scale(0.9510,1)" font-size="39.90">0</text>
<text transform="translate(274.67,1173.40) scale(0.9510,1)" font-size="39.90">50</text>
<text transform="translate(393.61,1173.40) scale(0.9510,1)" font-size="39.90" clip-path="url(#c1_0)">100</text>
<text transform="translate(523.75,1173.40) scale(0.9510,1)" font-size="39.90" clip-path="url(#c1_1)">150</text>
<text transform="translate(654.40,1173.40) scale(0.9510,1)" font-size="39.90">200</text>
<text transform="translate(784.54,1173.40) scale(0.9510,1)" font-size="39.90">250</text>
<text transform="translate(914.91,1173.40) scale(0.9510,1)" font-size="39.90">300</text>
<text transform="translate(1045.05,1173.40) scale(0.9510,1)" font-size="39.90">350</text>
<text transform="translate(1175.33,1173.40) scale(0.9510,1)" font-size="39.90">400</text>
<text transform="translate(1305.47,1173.40) scale(0.9510,1)" font-size="39.90">450</text>
<text transform="translate(1435.32,1173.40) scale(0.9510,1)" font-size="39.90">500</text>
<text transform="translate(1565.45,1173.40) scale(0.9510,1)" font-size="39.90">550</text>
<text transform="translate(122.46,1131.50) scale(0.9510,1)" font-size="39.90">0</text>
<text transform="translate(101.40,937.70) scale(0.9510,1)" font-size="39.90">20</text>
<text transform="translate(101.40,743.90) scale(0.9510,1)" font-size="39.90">40</text>
<text transform="translate(101.40,550.10) scale(0.9510,1)" font-size="39.90">60</text>
<text transform="translate(101.40,356.30) scale(0.9510,1)" font-size="39.90">80</text>
<text transform="translate(80.24,162.50) scale(0.9510,1)" font-size="39.90" clip-path="url(#c1_2)">100</text>
<text transform="translate(688.63,1219.20) scale(1.0731,1)" font-size="44.20">Temperature (°C)</text>
<text transform="translate(68.00,683.22) rotate(-90) scale(0.9563,1)" font-size="50.60">Weight (%)</text>
<line x1="208" y1="885.4" x2="316.5" y2="885.4" stroke="#000" stroke-width="7.3" stroke-linecap="round"/>
<text transform="translate(329.59,902.20) scale(0.9700,1)" font-size="49.00">PET</text>
<line x1="208" y1="946.4" x2="316.5" y2="946.4" stroke="#f00" stroke-width="7.3" stroke-linecap="round"/>
<text transform="translate(329.59,963.10) scale(0.9700,1)" font-size="49.00">PET-UIO66-0.5</text>
<line x1="208" y1="1006.2" x2="316.5" y2="1006.2" stroke="#00f" stroke-width="7.3" stroke-linecap="round"/>
<text transform="translate(329.59,1022.90) scale(0.9700,1)" font-size="49.00" clip-path="url(#c1_3)">PET-UIO66-1</text>
<line x1="208" y1="1067.2" x2="316.5" y2="1067.2" stroke="#f0f" stroke-width="7.3" stroke-linecap="round"/>
<text transform="translate(329.59,1083.80) scale(0.9700,1)" font-size="49.00">PET-UIO66-3</text>
<rect x="433.6" y="281.4" width="603.0" height="449.3" fill="#fff" stroke="none"/>
<clipPath id="ic"><rect x="433.6" y="281.4" width="603.0" height="449.3"/></clipPath>
<g clip-path="url(#ic)">
<path d="M435.2,338.9 L436.6,339.0 438.0,339.1 439.4,339.3 440.8,339.4 442.2,339.5 443.6,339.6 445.0,339.7 446.4,339.8 447.8,340.0 449.2,340.1 450.6,340.2 452.1,340.3 453.5,340.4 454.9,340.5 456.3,340.6 457.8,340.6 459.2,340.7 460.6,340.8 462.0,340.9 463.5,341.0 464.9,341.1 466.4,341.1 467.8,341.2 469.2,341.3 470.7,341.4 472.1,341.4 473.6,341.5 475.0,341.6 476.5,341.6 477.9,341.7 479.4,341.7 480.8,341.8 482.3,341.9 483.7,341.9 485.2,342.0 486.7,342.0 488.1,342.1 489.6,342.1 491.1,342.2 492.5,342.2 494.0,342.2 495.5,342.3 496.9,342.3 498.4,342.4 499.9,342.4 501.4,342.4 502.8,342.5 504.3,342.5 505.8,342.5 507.3,342.5 508.8,342.6 510.3,342.6 511.7,342.6 513.2,342.7 514.7,342.7 516.2,342.7 517.7,342.7 519.2,342.7 520.7,342.8 522.2,342.8 523.7,342.8 525.2,342.8 526.7,342.8 528.2,342.9 529.7,342.9 531.2,342.9 532.7,342.9 534.2,342.9 535.7,342.9 537.2,342.9 538.7,343.0 540.2,343.0 541.7,343.0 543.2,343.0 544.7,343.0 546.2,343.0 547.8,343.0 549.3,343.0 550.8,343.1 552.3,343.1 553.8,343.1 555.3,343.1 556.8,343.1 558.4,343.1 559.9,343.1 561.4,343.1 562.9,343.1 564.4,343.2 566.0,343.2 567.5,343.2 569.0,343.2 570.5,343.2 572.1,343.2 573.6,343.2 575.1,343.3 576.6,343.3 578.2,343.3 579.7,343.3 581.2,343.3 582.7,343.3 584.3,343.4 585.8,343.4 587.3,343.4 588.9,343.4 590.4,343.4 591.9,343.5 593.4,343.5 595.0,343.5 596.5,343.5 598.0,343.6 599.6,343.6 601.1,343.6 602.6,343.7 604.2,343.7 605.7,343.7 607.2,343.8 608.8,343.8 610.3,343.8 611.8,343.9 613.4,343.9 614.9,343.9 616.4,344.0 618.0,344.0 619.5,344.1 621.0,344.1 622.6,344.2 624.1,344.2 625.6,344.3 627.2,344.3 628.7,344.4 630.2,344.4 631.8,344.5 633.3,344.6 634.9,344.6 636.4,344.7 637.9,344.8 639.5,344.8 641.0,344.9 642.5,345.0 644.1,345.1 645.6,345.1 647.1,345.2 648.6,345.3 650.2,345.4 651.7,345.5 653.2,345.6 654.8,345.7 656.3,345.8 657.8,345.9 659.4,346.0 660.9,346.1 662.4,346.2 664.0,346.3 665.5,346.4 667.0,346.5 668.5,346.6 670.1,346.7 671.6,346.9 673.1,347.0 674.6,347.1 676.2,347.3 677.7,347.4 679.2,347.5 680.7,347.7 682.3,347.8 683.8,348.0 685.3,348.1 686.8,348.3 688.3,348.4 689.8,348.6 691.4,348.7 692.9,348.9 694.4,349.1 695.9,349.3 697.4,349.4 698.9,349.6 700.4,349.8 701.9,350.0 703.4,350.2 705.0,350.4 706.5,350.6 708.0,350.8 709.5,351.0 711.0,351.2 712.5,351.4 714.0,351.6 715.5,351.9 716.9,352.1 718.4,352.3 719.9,352.5 721.4,352.8 722.9,353.0 724.4,353.3 725.9,353.5 727.4,353.8 728.8,354.0 730.3,354.3 731.8,354.6 733.3,354.9 734.7,355.1 736.2,355.4 737.7,355.7 739.2,356.0 740.6,356.3 742.1,356.6 743.5,356.9 745.0,357.2 746.5,357.5 747.9,357.8 749.4,358.2 750.8,358.5 752.3,358.8 753.7,359.2 755.2,359.5 756.6,359.9 758.0,360.2 759.5,360.6 760.9,360.9 762.3,361.3 763.8,361.7 765.2,362.1 766.6,362.5 768.0,362.8 769.5,363.2 770.9,363.6 772.3,364.1 773.7,364.5 775.1,364.9 776.5,365.3 777.9,365.7 779.3,366.2 780.7,366.6 782.1,367.1 783.5,367.5 784.9,368.0 786.3,368.4 787.6,368.9 789.0,369.4 790.4,369.9 791.8,370.4 793.1,370.9 794.5,371.4 795.9,371.9 797.2,372.4 798.6,372.9 799.9,373.4 801.3,373.9 802.6,374.5 804.0,375.0 805.3,375.6 806.7,376.1 808.0,376.7 809.3,377.3 810.6,377.8 812.0,378.4 813.3,379.0 814.6,379.6 815.9,380.2 817.2,380.8 818.5,381.4 819.8,382.1 821.1,382.7 822.4,383.3 823.7,384.0 825.0,384.6 826.3,385.3 827.5,385.9 828.8,386.6 830.1,387.3 831.3,388.0 832.6,388.7 833.9,389.4 835.1,390.1 836.3,390.8 837.6,391.5 838.8,392.2 840.1,393.0 841.3,393.7 842.5,394.5 843.7,395.2 845.0,396.0 846.2,396.7 847.4,397.5 848.6,398.3 849.8,399.1 851.0,399.9 852.2,400.7 853.4,401.5 854.5,402.4 855.7,403.2 856.9,404.1 858.1,404.9 859.2,405.8 860.4,406.6 861.5,407.5 862.7,408.4 863.8,409.3 865.0,410.2 866.1,411.1 867.2,412.0 868.3,412.9 869.5,413.8 870.6,414.8 871.7,415.7 872.8,416.7 873.9,417.6 875.0,418.6 876.1,419.6 877.2,420.5 878.3,421.5 879.3,422.5 880.4,423.5 881.5,424.5 882.6,425.5 883.6,426.6 884.7,427.6 885.7,428.6 886.8,429.7 887.8,430.7 888.8,431.8 889.9,432.8 890.9,433.9 891.9,434.9 893.0,436.0 894.0,437.1 895.0,438.2 896.0,439.3 897.0,440.4 898.0,441.5 899.0,442.6 900.0,443.7 901.0,444.8 902.0,446.0 902.9,447.1 903.9,448.2 904.9,449.4 905.8,450.5 906.8,451.7 907.8,452.9 908.7,454.0 909.7,455.2 910.6,456.4 911.6,457.5 912.5,458.7 913.4,459.9 914.4,461.1 915.3,462.3 916.2,463.5 917.1,464.7 918.0,465.9 918.9,467.1 919.8,468.4 920.7,469.6 921.6,470.8 922.5,472.0 923.4,473.3 924.3,474.5 925.2,475.8 926.1,477.0 927.0,478.3 927.8,479.5 928.7,480.8 929.6,482.0 930.4,483.3 931.3,484.6 932.1,485.9 933.0,487.1 933.8,488.4 934.7,489.7 935.5,491.0 936.3,492.3 937.2,493.6 938.0,494.9 938.8,496.2 939.6,497.5 940.4,498.8 941.2,500.1 942.1,501.4 942.9,502.7 943.7,504.0 944.5,505.3 945.3,506.6 946.0,508.0 946.8,509.3 947.6,510.6 948.4,511.9 949.2,513.3 949.9,514.6 950.7,515.9 951.5,517.3 952.2,518.6 953.0,519.9 953.8,521.3 954.5,522.6 955.3,524.0 956.0,525.3 956.8,526.7 957.5,528.0 958.2,529.4 959.0,530.7 959.7,532.1 960.4,533.4 961.2,534.8 961.9,536.1 962.6,537.5 963.3,538.8 964.0,540.2 964.7,541.5 965.4,542.9 966.1,544.3 966.8,545.6 967.5,547.0 968.2,548.3 968.9,549.7 969.6,551.1 970.3,552.4 971.0,553.8 971.6,555.2 972.3,556.5 973.0,557.9 973.7,559.3 974.3,560.6 975.0,562.0 975.6,563.4 976.3,564.8 977.0,566.1 977.6,567.5 978.3,568.9 978.9,570.2 979.5,571.6 980.2,573.0 980.8,574.4 981.5,575.7 982.1,577.1 982.7,578.5 983.3,579.9 984.0,581.3 984.6,582.6 985.2,584.0 985.8,585.4 986.4,586.8 987.1,588.2 987.7,589.5 988.3,590.9 988.9,592.3 989.5,593.7 990.1,595.1 990.7,596.5 991.3,597.9 991.8,599.2 992.4,600.6 993.0,602.0 993.6,603.4 994.2,604.8 994.8,606.2 995.3,607.6 995.9,609.0 996.5,610.3 997.0,611.7 997.6,613.1 998.2,614.5 998.7,615.9 999.3,617.3 999.9,618.7 1000.4,620.1 1001.0,621.5 1001.5,622.9 1002.1,624.3 1002.6,625.6 1003.1,627.0 1003.7,628.4 1004.2,629.8 1004.8,631.2 1005.3,632.6 1005.8,634.0 1006.4,635.4 1006.9,636.8 1007.4,638.2 1007.9,639.6 1008.5,641.0 1009.0,642.4 1009.5,643.8 1010.0,645.2 1010.5,646.6 1011.0,648.0 1011.5,649.3 1012.0,650.7 1012.6,652.1 1013.1,653.5 1013.6,654.9 1014.1,656.3 1014.6,657.7 1015.1,659.1 1015.5,660.5 1016.0,661.9 1016.5,663.3 1017.0,664.7 1017.5,666.1 1018.0,667.5 1018.5,668.9 1019.0,670.3 1019.4,671.7 1019.9,673.1 1020.4,674.5 1020.9,675.9 1021.3,677.3 1021.8,678.6 1022.3,680.0 1022.7,681.4 1023.2,682.8 1023.7,684.2 1024.1,685.6 1024.6,687.0 1025.1,688.4 1025.5,689.8 1026.0,691.2 1026.4,692.6 1026.9,694.0 1027.3,695.4 1027.8,696.8 1028.2,698.2 1028.7,699.5 1029.1,700.9 1029.6,702.3 1030.0,703.7 1030.4,705.1 1030.9,706.5 1031.3,707.9 1031.8,709.3 1032.2,710.7 1032.6,712.0 1033.1,713.4 1033.5,714.8 1033.9,716.2 1034.4,717.6 1034.8,719.0 1035.2,720.4 1035.6,721.8 1036.1,723.1 1036.5,724.5 1036.9,725.9 1037.3,727.3 1037.8,728.7 1038.2,730.1 1038.6,731.4 1039.0,732.8 1039.4,734.2" fill="none" stroke="#000" stroke-width="5.8" stroke-linecap="round" stroke-linejoin="round"/>
<path d="M435.4,350.7 L436.8,350.8 438.2,350.9 439.6,350.9 441.0,351.0 442.4,351.1 443.8,351.1 445.2,351.2 446.6,351.3 448.0,351.3 449.4,351.4 450.8,351.5 452.2,351.5 453.7,351.6 455.1,351.7 456.5,351.7 457.9,351.8 459.4,351.9 460.8,351.9 462.2,352.0 463.6,352.0 465.1,352.1 466.5,352.2 468.0,352.2 469.4,352.3 470.8,352.3 472.3,352.4 473.7,352.5 475.2,352.5 476.6,352.6 478.1,352.6 479.5,352.7 481.0,352.7 482.4,352.8 483.9,352.9 485.3,352.9 486.8,353.0 488.3,353.0 489.7,353.1 491.2,353.1 492.7,353.2 494.1,353.3 495.6,353.3 497.1,353.4 498.5,353.4 500.0,353.5 501.5,353.5 503.0,353.6 504.4,353.7 505.9,353.7 507.4,353.8 508.9,353.8 510.4,353.9 511.9,353.9 513.3,354.0 514.8,354.1 516.3,354.1 517.8,354.2 519.3,354.3 520.8,354.3 522.3,354.4 523.8,354.4 525.3,354.5 526.8,354.6 528.3,354.6 529.8,354.7 531.2,354.8 532.7,354.8 534.2,354.9 535.7,355.0 537.3,355.0 538.8,355.1 540.3,355.2 541.8,355.3 543.3,355.3 544.8,355.4 546.3,355.5 547.8,355.6 549.3,355.6 550.8,355.7 552.3,355.8 553.8,355.9 555.3,356.0 556.9,356.0 558.4,356.1 559.9,356.2 561.4,356.3 562.9,356.4 564.4,356.5 565.9,356.6 567.5,356.6 569.0,356.7 570.5,356.8 572.0,356.9 573.5,357.0 575.0,357.1 576.6,357.2 578.1,357.3 579.6,357.4 581.1,357.5 582.6,357.6 584.2,357.7 585.7,357.8 587.2,358.0 588.7,358.1 590.2,358.2 591.8,358.3 593.3,358.4 594.8,358.5 596.3,358.7 597.9,358.8 599.4,358.9 600.9,359.0 602.4,359.2 603.9,359.3 605.5,359.4 607.0,359.5 608.5,359.7 610.0,359.8 611.6,360.0 613.1,360.1 614.6,360.2 616.1,360.4 617.6,360.5 619.2,360.7 620.7,360.8 622.2,361.0 623.7,361.2 625.2,361.3 626.8,361.5 628.3,361.6 629.8,361.8 631.3,362.0 632.9,362.1 634.4,362.3 635.9,362.5 637.4,362.7 638.9,362.8 640.4,363.0 642.0,363.2 643.5,363.4 645.0,363.6 646.5,363.8 648.0,364.0 649.5,364.2 651.0,364.4 652.6,364.6 654.1,364.8 655.6,365.0 657.1,365.2 658.6,365.4 660.1,365.6 661.6,365.9 663.1,366.1 664.6,366.3 666.2,366.5 667.7,366.8 669.2,367.0 670.7,367.2 672.2,367.5 673.7,367.7 675.2,368.0 676.7,368.2 678.2,368.5 679.7,368.7 681.2,369.0 682.7,369.3 684.2,369.5 685.7,369.8 687.2,370.1 688.6,370.3 690.1,370.6 691.6,370.9 693.1,371.2 694.6,371.5 696.1,371.8 697.6,372.1 699.1,372.4 700.6,372.7 702.0,373.0 703.5,373.3 705.0,373.6 706.5,373.9 707.9,374.2 709.4,374.6 710.9,374.9 712.4,375.2 713.8,375.5 715.3,375.9 716.8,376.2 718.3,376.6 719.7,376.9 721.2,377.3 722.6,377.6 724.1,378.0 725.6,378.4 727.0,378.7 728.5,379.1 729.9,379.5 731.4,379.9 732.8,380.3 734.3,380.6 735.7,381.0 737.2,381.4 738.6,381.8 740.1,382.2 741.5,382.7 743.0,383.1 744.4,383.5 745.8,383.9 747.3,384.3 748.7,384.8 750.1,385.2 751.5,385.6 753.0,386.1 754.4,386.5 755.8,387.0 757.2,387.5 758.7,387.9 760.1,388.4 761.5,388.9 762.9,389.3 764.3,389.8 765.7,390.3 767.1,390.8 768.5,391.3 769.9,391.8 771.3,392.3 772.7,392.8 774.1,393.3 775.5,393.8 776.9,394.4 778.3,394.9 779.7,395.4 781.1,396.0 782.4,396.5 783.8,397.0 785.2,397.6 786.6,398.2 787.9,398.7 789.3,399.3 790.7,399.9 792.0,400.4 793.4,401.0 794.8,401.6 796.1,402.2 797.5,402.8 798.8,403.4 800.2,404.0 801.5,404.6 802.9,405.2 804.2,405.9 805.5,406.5 806.9,407.1 808.2,407.8 809.5,408.4 810.9,409.1 812.2,409.7 813.5,410.4 814.8,411.1 816.1,411.7 817.4,412.4 818.8,413.1 820.1,413.8 821.4,414.5 822.7,415.2 824.0,415.9 825.3,416.6 826.6,417.3 827.8,418.1 829.1,418.8 830.4,419.5 831.7,420.3 833.0,421.0 834.2,421.8 835.5,422.5 836.8,423.3 838.0,424.1 839.3,424.8 840.6,425.6 841.8,426.4 843.1,427.2 844.3,428.0 845.6,428.8 846.8,429.6 848.0,430.4 849.3,431.3 850.5,432.1 851.7,432.9 852.9,433.8 854.2,434.6 855.4,435.5 856.6,436.3 857.8,437.2 859.0,438.1 860.2,439.0 861.4,439.8 862.6,440.7 863.8,441.6 865.0,442.5 866.1,443.4 867.3,444.3 868.5,445.2 869.7,446.2 870.8,447.1 872.0,448.0 873.1,449.0 874.3,449.9 875.4,450.8 876.6,451.8 877.7,452.8 878.8,453.7 880.0,454.7 881.1,455.7 882.2,456.6 883.3,457.6 884.4,458.6 885.5,459.6 886.6,460.6 887.7,461.6 888.8,462.6 889.9,463.6 891.0,464.6 892.0,465.6 893.1,466.7 894.2,467.7 895.2,468.7 896.3,469.8 897.3,470.8 898.4,471.9 899.4,472.9 900.4,474.0 901.5,475.0 902.5,476.1 903.5,477.2 904.5,478.3 905.5,479.3 906.5,480.4 907.5,481.5 908.5,482.6 909.5,483.7 910.5,484.8 911.4,485.9 912.4,487.0 913.4,488.2 914.3,489.3 915.3,490.4 916.2,491.5 917.2,492.7 918.1,493.8 919.0,494.9 920.0,496.1 920.9,497.2 921.8,498.4 922.7,499.5 923.6,500.7 924.5,501.9 925.4,503.0 926.3,504.2 927.2,505.4 928.1,506.6 929.0,507.7 929.9,508.9 930.7,510.1 931.6,511.3 932.5,512.5 933.3,513.7 934.2,514.9 935.0,516.1 935.9,517.3 936.7,518.6 937.5,519.8 938.4,521.0 939.2,522.2 940.0,523.5 940.8,524.7 941.6,525.9 942.4,527.2 943.2,528.4 944.0,529.7 944.8,530.9 945.6,532.2 946.4,533.4 947.2,534.7 947.9,535.9 948.7,537.2 949.5,538.5 950.2,539.7 951.0,541.0 951.8,542.3 952.5,543.6 953.2,544.9 954.0,546.2 954.7,547.4 955.5,548.7 956.2,550.0 956.9,551.3 957.6,552.6 958.3,553.9 959.0,555.2 959.8,556.5 960.5,557.9 961.2,559.2 961.9,560.5 962.5,561.8 963.2,563.1 963.9,564.5 964.6,565.8 965.3,567.1 966.0,568.4 966.6,569.8 967.3,571.1 967.9,572.4 968.6,573.8 969.3,575.1 969.9,576.5 970.6,577.8 971.2,579.2 971.9,580.5 972.5,581.9 973.1,583.2 973.8,584.6 974.4,586.0 975.0,587.3 975.6,588.7 976.3,590.1 976.9,591.4 977.5,592.8 978.1,594.2 978.7,595.5 979.3,596.9 979.9,598.3 980.5,599.7 981.1,601.1 981.7,602.4 982.3,603.8 982.9,605.2 983.5,606.6 984.1,608.0 984.7,609.4 985.3,610.8 985.8,612.2 986.4,613.6 987.0,615.0 987.6,616.4 988.1,617.8 988.7,619.2 989.3,620.6 989.8,622.0 990.4,623.4 991.0,624.8 991.5,626.2 992.1,627.6 992.6,629.0 993.2,630.4 993.7,631.9 994.3,633.3 994.8,634.7 995.4,636.1 995.9,637.5 996.4,638.9 997.0,640.4 997.5,641.8 998.1,643.2 998.6,644.6 999.1,646.1 999.7,647.5 1000.2,648.9 1000.7,650.3 1001.3,651.8 1001.8,653.2 1002.3,654.6 1002.8,656.1 1003.4,657.5 1003.9,658.9 1004.4,660.3 1004.9,661.8 1005.4,663.2 1006.0,664.6 1006.5,666.1 1007.0,667.5 1007.5,668.9 1008.0,670.4 1008.5,671.8 1009.1,673.3 1009.6,674.7 1010.1,676.1 1010.6,677.6 1011.1,679.0 1011.6,680.4 1012.1,681.9 1012.6,683.3 1013.2,684.8 1013.7,686.2 1014.2,687.6 1014.7,689.1 1015.2,690.5 1015.7,691.9 1016.2,693.4 1016.7,694.8 1017.2,696.3 1017.7,697.7 1018.2,699.1 1018.7,700.6 1019.3,702.0 1019.8,703.5 1020.3,704.9 1020.8,706.3 1021.3,707.8 1021.8,709.2 1022.3,710.6 1022.8,712.1 1023.3,713.5 1023.8,714.9 1024.4,716.4 1024.9,717.8 1025.4,719.2 1025.9,720.7 1026.4,722.1 1026.9,723.5 1027.4,725.0 1028.0,726.4 1028.5,727.8 1029.0,729.3 1029.5,730.7 1030.0,732.1 1030.5,733.5 1031.1,735.0 1031.6,736.4 1032.1,737.8" fill="none" stroke="#f00" stroke-width="5.8" stroke-linecap="round" stroke-linejoin="round"/>
<path d="M434.7,340.1 L436.2,340.1 437.6,340.1 439.1,340.1 440.5,340.1 441.9,340.1 443.4,340.1 444.8,340.1 446.3,340.1 447.7,340.1 449.2,340.1 450.6,340.1 452.1,340.1 453.5,340.0 455.0,340.0 456.4,340.0 457.9,340.0 459.4,340.0 460.8,340.0 462.3,340.0 463.7,340.0 465.2,340.0 466.6,340.0 468.1,340.0 469.6,340.0 471.0,340.0 472.5,340.0 474.0,340.0 475.4,340.0 476.9,340.0 478.4,340.0 479.8,340.0 481.3,340.0 482.8,340.0 484.2,340.0 485.7,340.0 487.2,340.0 488.6,340.0 490.1,340.0 491.6,340.0 493.1,340.0 494.5,340.0 496.0,340.0 497.5,340.0 499.0,340.0 500.4,340.0 501.9,340.0 503.4,340.0 504.9,340.0 506.4,340.1 507.8,340.1 509.3,340.1 510.8,340.1 512.3,340.1 513.8,340.1 515.3,340.2 516.7,340.2 518.2,340.2 519.7,340.2 521.2,340.2 522.7,340.3 524.2,340.3 525.7,340.3 527.2,340.3 528.6,340.4 530.1,340.4 531.6,340.4 533.1,340.5 534.6,340.5 536.1,340.5 537.6,340.6 539.1,340.6 540.6,340.7 542.1,340.7 543.6,340.7 545.1,340.8 546.6,340.8 548.1,340.9 549.6,340.9 551.1,341.0 552.6,341.0 554.1,341.1 555.6,341.1 557.1,341.2 558.6,341.3 560.1,341.3 561.6,341.4 563.1,341.4 564.6,341.5 566.1,341.6 567.6,341.7 569.1,341.7 570.6,341.8 572.1,341.9 573.6,342.0 575.1,342.0 576.6,342.1 578.1,342.2 579.6,342.3 581.2,342.4 582.7,342.5 584.2,342.6 585.7,342.7 587.2,342.7 588.7,342.8 590.2,342.9 591.7,343.1 593.2,343.2 594.8,343.3 596.3,343.4 597.8,343.5 599.3,343.6 600.8,343.7 602.3,343.8 603.8,344.0 605.4,344.1 606.9,344.2 608.4,344.3 609.9,344.5 611.4,344.6 612.9,344.7 614.5,344.9 616.0,345.0 617.5,345.2 619.0,345.3 620.5,345.5 622.1,345.6 623.6,345.8 625.1,345.9 626.6,346.1 628.1,346.3 629.7,346.4 631.2,346.6 632.7,346.8 634.2,347.0 635.7,347.1 637.3,347.3 638.8,347.5 640.3,347.7 641.8,347.9 643.3,348.1 644.9,348.3 646.4,348.5 647.9,348.7 649.4,348.9 651.0,349.1 652.5,349.3 654.0,349.5 655.5,349.7 657.0,349.9 658.6,350.2 660.1,350.4 661.6,350.6 663.1,350.9 664.6,351.1 666.2,351.3 667.7,351.6 669.2,351.8 670.7,352.1 672.2,352.3 673.7,352.6 675.3,352.9 676.8,353.1 678.3,353.4 679.8,353.7 681.3,353.9 682.8,354.2 684.3,354.5 685.8,354.8 687.3,355.1 688.9,355.4 690.4,355.7 691.9,356.0 693.4,356.3 694.9,356.6 696.4,356.9 697.9,357.2 699.4,357.5 700.9,357.9 702.4,358.2 703.9,358.5 705.3,358.9 706.8,359.2 708.3,359.5 709.8,359.9 711.3,360.2 712.8,360.6 714.3,361.0 715.8,361.3 717.2,361.7 718.7,362.1 720.2,362.4 721.7,362.8 723.1,363.2 724.6,363.6 726.1,364.0 727.6,364.4 729.0,364.8 730.5,365.2 731.9,365.6 733.4,366.0 734.9,366.4 736.3,366.9 737.8,367.3 739.2,367.7 740.7,368.2 742.1,368.6 743.6,369.1 745.0,369.5 746.4,370.0 747.9,370.4 749.3,370.9 750.7,371.4 752.2,371.8 753.6,372.3 755.0,372.8 756.4,373.3 757.9,373.8 759.3,374.3 760.7,374.8 762.1,375.3 763.5,375.8 764.9,376.3 766.3,376.8 767.7,377.4 769.1,377.9 770.5,378.4 771.9,379.0 773.3,379.5 774.7,380.1 776.0,380.6 777.4,381.2 778.8,381.8 780.2,382.3 781.5,382.9 782.9,383.5 784.3,384.1 785.6,384.7 787.0,385.3 788.3,385.9 789.7,386.5 791.0,387.1 792.4,387.7 793.7,388.4 795.0,389.0 796.4,389.6 797.7,390.3 799.0,390.9 800.3,391.6 801.6,392.2 803.0,392.9 804.3,393.6 805.6,394.2 806.9,394.9 808.2,395.6 809.5,396.3 810.7,397.0 812.0,397.7 813.3,398.4 814.6,399.1 815.9,399.8 817.1,400.6 818.4,401.3 819.6,402.0 820.9,402.8 822.1,403.5 823.4,404.3 824.6,405.0 825.9,405.8 827.1,406.6 828.3,407.4 829.5,408.1 830.8,408.9 832.0,409.7 833.2,410.5 834.4,411.3 835.6,412.2 836.8,413.0 838.0,413.8 839.2,414.6 840.3,415.5 841.5,416.3 842.7,417.2 843.9,418.0 845.0,418.9 846.2,419.8 847.3,420.6 848.5,421.5 849.6,422.4 850.7,423.3 851.9,424.2 853.0,425.1 854.1,426.0 855.2,426.9 856.4,427.9 857.5,428.8 858.6,429.7 859.7,430.7 860.8,431.6 861.9,432.6 862.9,433.5 864.0,434.5 865.1,435.5 866.2,436.4 867.2,437.4 868.3,438.4 869.4,439.4 870.4,440.4 871.5,441.4 872.5,442.4 873.6,443.4 874.6,444.4 875.6,445.4 876.6,446.5 877.7,447.5 878.7,448.5 879.7,449.6 880.7,450.6 881.7,451.7 882.7,452.7 883.7,453.8 884.7,454.9 885.7,455.9 886.7,457.0 887.7,458.1 888.6,459.2 889.6,460.3 890.6,461.4 891.5,462.5 892.5,463.6 893.5,464.7 894.4,465.8 895.4,466.9 896.3,468.0 897.2,469.1 898.2,470.3 899.1,471.4 900.0,472.6 901.0,473.7 901.9,474.8 902.8,476.0 903.7,477.2 904.6,478.3 905.5,479.5 906.4,480.7 907.3,481.8 908.2,483.0 909.1,484.2 910.0,485.4 910.8,486.6 911.7,487.8 912.6,489.0 913.5,490.2 914.3,491.4 915.2,492.6 916.0,493.8 916.9,495.0 917.7,496.2 918.6,497.4 919.4,498.7 920.3,499.9 921.1,501.1 921.9,502.4 922.8,503.6 923.6,504.9 924.4,506.1 925.2,507.4 926.0,508.6 926.9,509.9 927.7,511.1 928.5,512.4 929.3,513.7 930.1,515.0 930.8,516.2 931.6,517.5 932.4,518.8 933.2,520.1 934.0,521.4 934.8,522.7 935.5,524.0 936.3,525.2 937.1,526.5 937.8,527.8 938.6,529.2 939.3,530.5 940.1,531.8 940.8,533.1 941.6,534.4 942.3,535.7 943.1,537.0 943.8,538.4 944.5,539.7 945.3,541.0 946.0,542.4 946.7,543.7 947.4,545.0 948.1,546.4 948.9,547.7 949.6,549.1 950.3,550.4 951.0,551.8 951.7,553.1 952.4,554.5 953.1,555.8 953.8,557.2 954.5,558.5 955.1,559.9 955.8,561.3 956.5,562.6 957.2,564.0 957.9,565.4 958.5,566.7 959.2,568.1 959.9,569.5 960.5,570.9 961.2,572.2 961.9,573.6 962.5,575.0 963.2,576.4 963.8,577.8 964.5,579.2 965.1,580.6 965.7,581.9 966.4,583.3 967.0,584.7 967.6,586.1 968.3,587.5 968.9,588.9 969.5,590.3 970.2,591.7 970.8,593.1 971.4,594.5 972.0,595.9 972.6,597.3 973.2,598.8 973.8,600.2 974.4,601.6 975.0,603.0 975.6,604.4 976.2,605.8 976.8,607.2 977.4,608.6 978.0,610.1 978.6,611.5 979.2,612.9 979.8,614.3 980.3,615.7 980.9,617.1 981.5,618.6 982.1,620.0 982.6,621.4 983.2,622.8 983.8,624.3 984.3,625.7 984.9,627.1 985.5,628.5 986.0,630.0 986.6,631.4 987.1,632.8 987.7,634.2 988.2,635.7 988.8,637.1 989.3,638.5 989.9,639.9 990.4,641.4 990.9,642.8 991.5,644.2 992.0,645.7 992.6,647.1 993.1,648.5 993.6,649.9 994.1,651.4 994.7,652.8 995.2,654.2 995.7,655.7 996.2,657.1 996.7,658.5 997.3,659.9 997.8,661.4 998.3,662.8 998.8,664.2 999.3,665.7 999.8,667.1 1000.3,668.5 1000.8,669.9 1001.3,671.4 1001.8,672.8 1002.3,674.2 1002.8,675.6 1003.3,677.1 1003.8,678.5 1004.3,679.9 1004.8,681.3 1005.3,682.7 1005.7,684.2 1006.2,685.6 1006.7,687.0 1007.2,688.4 1007.7,689.8 1008.1,691.2 1008.6,692.6 1009.1,694.1 1009.6,695.5 1010.0,696.9 1010.5,698.3 1011.0,699.7 1011.4,701.1 1011.9,702.5 1012.4,703.9 1012.8,705.3 1013.3,706.7 1013.8,708.1 1014.2,709.5 1014.7,710.9 1015.1,712.3 1015.6,713.7 1016.0,715.1 1016.5,716.5 1016.9,717.9 1017.4,719.3 1017.8,720.7 1018.3,722.1 1018.7,723.4 1019.2,724.8 1019.6,726.2 1020.1,727.6 1020.5,729.0 1020.9,730.3 1021.4,731.7 1021.8,733.1 1022.3,734.4 1022.7,735.8 1023.1,737.2" fill="none" stroke="#00f" stroke-width="5.8" stroke-linecap="round" stroke-linejoin="round"/>
<path d="M435.1,351.4 L436.5,351.4 437.9,351.4 439.3,351.4 440.7,351.4 442.1,351.4 443.5,351.4 444.9,351.5 446.3,351.5 447.8,351.5 449.2,351.5 450.6,351.5 452.0,351.5 453.4,351.5 454.9,351.5 456.3,351.6 457.7,351.6 459.2,351.6 460.6,351.6 462.0,351.6 463.5,351.6 464.9,351.6 466.3,351.7 467.8,351.7 469.2,351.7 470.7,351.7 472.1,351.7 473.6,351.8 475.0,351.8 476.5,351.8 477.9,351.8 479.4,351.9 480.9,351.9 482.3,351.9 483.8,352.0 485.3,352.0 486.7,352.0 488.2,352.1 489.7,352.1 491.1,352.1 492.6,352.2 494.1,352.2 495.6,352.2 497.0,352.3 498.5,352.3 500.0,352.4 501.5,352.4 503.0,352.4 504.4,352.5 505.9,352.5 507.4,352.6 508.9,352.6 510.4,352.7 511.9,352.7 513.4,352.8 514.9,352.8 516.4,352.9 517.9,353.0 519.3,353.0 520.8,353.1 522.3,353.1 523.8,353.2 525.3,353.3 526.8,353.3 528.3,353.4 529.8,353.5 531.3,353.6 532.9,353.6 534.4,353.7 535.9,353.8 537.4,353.9 538.9,354.0 540.4,354.0 541.9,354.1 543.4,354.2 544.9,354.3 546.4,354.4 547.9,354.5 549.5,354.6 551.0,354.7 552.5,354.8 554.0,354.9 555.5,355.0 557.0,355.1 558.5,355.2 560.0,355.3 561.6,355.4 563.1,355.6 564.6,355.7 566.1,355.8 567.6,355.9 569.2,356.0 570.7,356.2 572.2,356.3 573.7,356.4 575.2,356.6 576.7,356.7 578.3,356.8 579.8,357.0 581.3,357.1 582.8,357.3 584.3,357.4 585.9,357.6 587.4,357.7 588.9,357.9 590.4,358.1 591.9,358.2 593.4,358.4 595.0,358.5 596.5,358.7 598.0,358.9 599.5,359.1 601.0,359.2 602.6,359.4 604.1,359.6 605.6,359.8 607.1,360.0 608.6,360.2 610.1,360.4 611.6,360.6 613.2,360.8 614.7,361.0 616.2,361.2 617.7,361.4 619.2,361.6 620.7,361.8 622.2,362.1 623.8,362.3 625.3,362.5 626.8,362.7 628.3,363.0 629.8,363.2 631.3,363.4 632.8,363.7 634.3,363.9 635.8,364.2 637.3,364.4 638.8,364.7 640.3,365.0 641.8,365.2 643.3,365.5 644.8,365.8 646.3,366.0 647.8,366.3 649.3,366.6 650.8,366.9 652.3,367.2 653.8,367.4 655.3,367.7 656.8,368.0 658.3,368.3 659.8,368.6 661.3,369.0 662.7,369.3 664.2,369.6 665.7,369.9 667.2,370.2 668.7,370.6 670.2,370.9 671.6,371.2 673.1,371.6 674.6,371.9 676.1,372.3 677.5,372.6 679.0,373.0 680.5,373.3 682.0,373.7 683.4,374.1 684.9,374.4 686.3,374.8 687.8,375.2 689.3,375.6 690.7,376.0 692.2,376.4 693.6,376.7 695.1,377.2 696.5,377.6 698.0,378.0 699.4,378.4 700.9,378.8 702.3,379.2 703.8,379.6 705.2,380.1 706.7,380.5 708.1,381.0 709.5,381.4 711.0,381.8 712.4,382.3 713.8,382.8 715.2,383.2 716.7,383.7 718.1,384.2 719.5,384.6 720.9,385.1 722.3,385.6 723.8,386.1 725.2,386.6 726.6,387.1 728.0,387.6 729.4,388.1 730.8,388.6 732.2,389.1 733.6,389.7 735.0,390.2 736.4,390.7 737.8,391.3 739.1,391.8 740.5,392.4 741.9,392.9 743.3,393.5 744.7,394.0 746.0,394.6 747.4,395.2 748.8,395.7 750.1,396.3 751.5,396.9 752.9,397.5 754.2,398.1 755.6,398.7 756.9,399.3 758.3,399.9 759.6,400.6 761.0,401.2 762.3,401.8 763.6,402.5 765.0,403.1 766.3,403.7 767.6,404.4 769.0,405.1 770.3,405.7 771.6,406.4 772.9,407.1 774.2,407.7 775.5,408.4 776.8,409.1 778.1,409.8 779.4,410.5 780.7,411.2 782.0,411.9 783.3,412.7 784.6,413.4 785.9,414.1 787.2,414.8 788.5,415.6 789.7,416.3 791.0,417.1 792.3,417.9 793.5,418.6 794.8,419.4 796.0,420.2 797.3,421.0 798.5,421.7 799.8,422.5 801.0,423.3 802.3,424.1 803.5,425.0 804.7,425.8 806.0,426.6 807.2,427.4 808.4,428.3 809.6,429.1 810.8,430.0 812.0,430.8 813.2,431.7 814.4,432.5 815.6,433.4 816.8,434.3 818.0,435.2 819.2,436.1 820.4,437.0 821.5,437.9 822.7,438.8 823.9,439.7 825.0,440.6 826.2,441.5 827.3,442.4 828.5,443.4 829.6,444.3 830.8,445.2 831.9,446.2 833.1,447.1 834.2,448.1 835.3,449.1 836.4,450.0 837.5,451.0 838.7,452.0 839.8,453.0 840.9,454.0 842.0,455.0 843.1,456.0 844.1,457.0 845.2,458.0 846.3,459.0 847.4,460.0 848.5,461.0 849.5,462.1 850.6,463.1 851.6,464.1 852.7,465.2 853.7,466.2 854.8,467.3 855.8,468.3 856.8,469.4 857.9,470.5 858.9,471.5 859.9,472.6 860.9,473.7 861.9,474.8 862.9,475.9 863.9,477.0 864.9,478.1 865.9,479.2 866.9,480.3 867.9,481.4 868.8,482.5 869.8,483.6 870.8,484.7 871.7,485.9 872.7,487.0 873.6,488.1 874.6,489.3 875.5,490.4 876.4,491.6 877.4,492.7 878.3,493.9 879.2,495.0 880.1,496.2 881.0,497.4 881.9,498.5 882.8,499.7 883.7,500.9 884.6,502.1 885.4,503.2 886.3,504.4 887.2,505.6 888.1,506.8 888.9,508.0 889.8,509.2 890.6,510.4 891.5,511.7 892.3,512.9 893.1,514.1 894.0,515.3 894.8,516.5 895.6,517.8 896.4,519.0 897.2,520.2 898.0,521.5 898.9,522.7 899.6,524.0 900.4,525.2 901.2,526.5 902.0,527.7 902.8,529.0 903.6,530.2 904.3,531.5 905.1,532.8 905.9,534.0 906.6,535.3 907.4,536.6 908.1,537.9 908.9,539.1 909.6,540.4 910.4,541.7 911.1,543.0 911.8,544.3 912.6,545.6 913.3,546.9 914.0,548.2 914.7,549.5 915.4,550.8 916.1,552.1 916.9,553.4 917.6,554.7 918.3,556.1 918.9,557.4 919.6,558.7 920.3,560.0 921.0,561.4 921.7,562.7 922.4,564.0 923.0,565.4 923.7,566.7 924.4,568.0 925.0,569.4 925.7,570.7 926.3,572.1 927.0,573.4 927.6,574.7 928.3,576.1 928.9,577.5 929.6,578.8 930.2,580.2 930.8,581.5 931.5,582.9 932.1,584.2 932.7,585.6 933.4,587.0 934.0,588.3 934.6,589.7 935.2,591.1 935.8,592.5 936.4,593.8 937.0,595.2 937.6,596.6 938.2,598.0 938.8,599.4 939.4,600.7 940.0,602.1 940.6,603.5 941.2,604.9 941.8,606.3 942.4,607.7 943.0,609.1 943.6,610.5 944.1,611.8 944.7,613.2 945.3,614.6 945.9,616.0 946.4,617.4 947.0,618.8 947.6,620.2 948.2,621.6 948.7,623.0 949.3,624.5 949.8,625.9 950.4,627.3 951.0,628.7 951.5,630.1 952.1,631.5 952.6,632.9 953.2,634.3 953.8,635.7 954.3,637.1 954.9,638.5 955.4,640.0 956.0,641.4 956.5,642.8 957.1,644.2 957.6,645.6 958.1,647.0 958.7,648.5 959.2,649.9 959.8,651.3 960.3,652.7 960.9,654.1 961.4,655.6 962.0,657.0 962.5,658.4 963.0,659.8 963.6,661.2 964.1,662.7 964.7,664.1 965.2,665.5 965.7,666.9 966.3,668.3 966.8,669.8 967.3,671.2 967.9,672.6 968.4,674.0 969.0,675.5 969.5,676.9 970.0,678.3 970.6,679.7 971.1,681.1 971.7,682.6 972.2,684.0 972.7,685.4 973.3,686.8 973.8,688.3 974.4,689.7 974.9,691.1 975.4,692.5 976.0,693.9 976.5,695.4 977.1,696.8 977.6,698.2 978.2,699.6 978.7,701.0 979.3,702.4 979.8,703.9 980.3,705.3 980.9,706.7 981.5,708.1 982.0,709.5 982.6,710.9 983.1,712.3 983.7,713.7 984.2,715.2 984.8,716.6 985.3,718.0 985.9,719.4 986.5,720.8 987.0,722.2 987.6,723.6 988.2,725.0 988.7,726.4 989.3,727.8 989.9,729.2 990.5,730.6 991.0,732.0 991.6,733.4 992.2,734.8 992.8,736.2 993.4,737.6" fill="none" stroke="#f0f" stroke-width="5.8" stroke-linecap="round" stroke-linejoin="round"/>
</g>
<rect x="433.6" y="281.4" width="603.0" height="449.3" fill="none" stroke="#000" stroke-width="1.9" stroke-linejoin="round"/>
<path d="M509.0,730.7 V725.7 M584.4,730.7 V722.2 M659.7,730.7 V725.7 M735.1,730.7 V722.2 M810.5,730.7 V725.7 M885.8,730.7 V722.2 M961.2,730.7 V725.7 M433.6,664.8 H438.6 M433.6,598.6 H442.4 M433.6,532.4 H438.6 M433.6,466.2 H442.4 M433.6,400.0 H438.6 M433.6,333.8 H442.4" stroke="#000" stroke-width="1.9" fill="none"/>
<text transform="translate(408.60,761.90) scale(1.0100,1)" font-size="30.00">340</text>
<text transform="translate(559.35,761.90) scale(1.0100,1)" font-size="30.00">360</text>
<text transform="translate(710.10,761.90) scale(1.0100,1)" font-size="30.00">380</text>
<text transform="translate(860.97,761.90) scale(1.0100,1)" font-size="30.00">400</text>
<text transform="translate(1011.72,761.90) scale(1.0100,1)" font-size="30.00">420</text>
<text transform="translate(391.50,737.70) scale(1.0100,1)" font-size="30.00">85</text>
<text transform="translate(391.88,605.30) scale(1.0100,1)" font-size="30.00">90</text>
<text transform="translate(391.50,472.90) scale(1.0100,1)" font-size="30.00">95</text>
<text transform="translate(374.99,340.50) scale(1.0100,1)" font-size="30.00" clip-path="url(#c1_4)">100</text>
<text transform="translate(569.09,799.40) scale(0.9634,1)" font-size="42.50">Temperature (°C)</text>
<text transform="translate(370.30,610.21) rotate(-90) scale(0.9789,1)" font-size="43.30">Weight (%)</text>
</svg></body></html>
